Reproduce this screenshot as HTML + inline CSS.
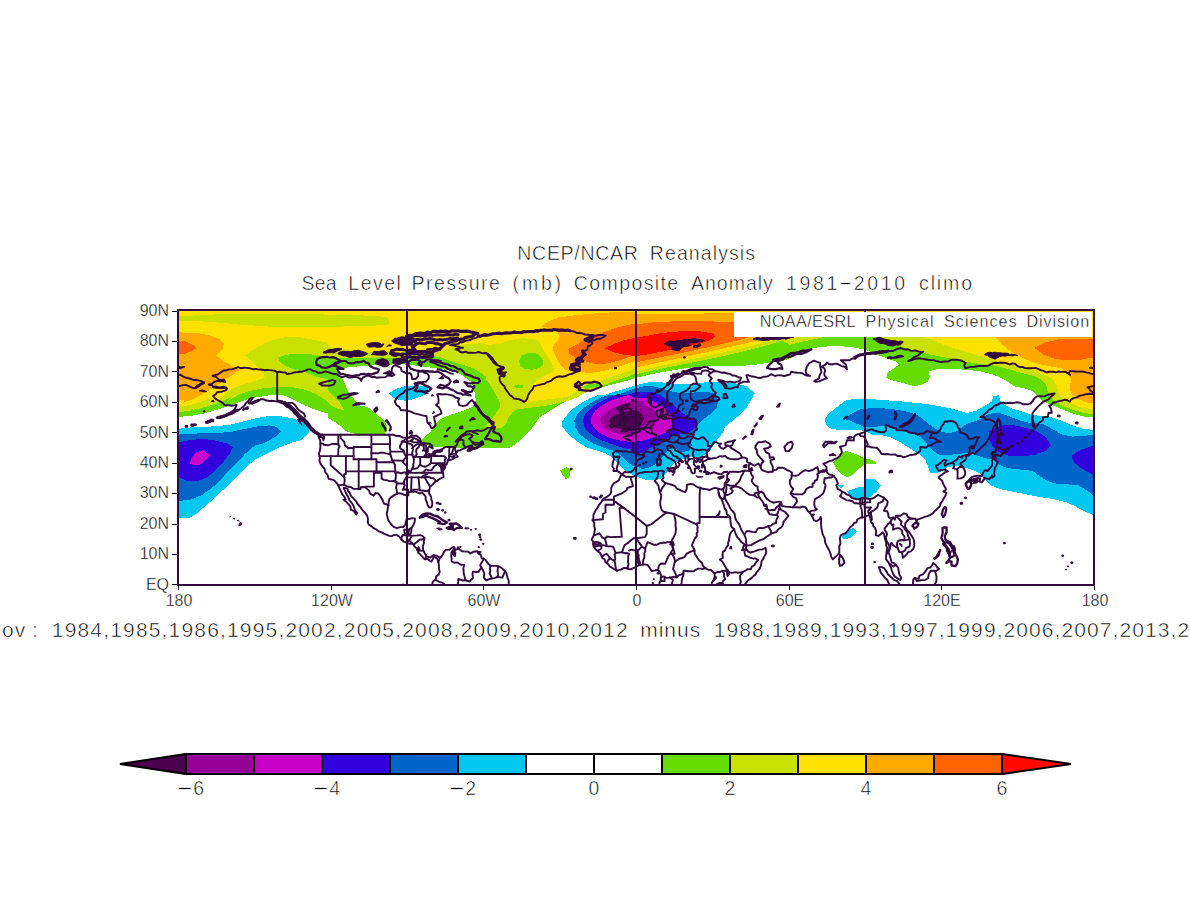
<!DOCTYPE html>
<html lang="en"><head><meta charset="utf-8"><title>NCEP/NCAR Reanalysis - Sea Level Pressure Composite Anomaly</title>
<style>
html,body{margin:0;padding:0;background:#fff;}
body{width:1190px;height:921px;position:relative;overflow:hidden;font-family:"Liberation Sans",sans-serif;color:#111;}
#map{position:absolute;left:0;top:0;}
.t{position:absolute;white-space:pre;line-height:1;-webkit-text-stroke:0.55px #fff;color:#000;}
.w{position:absolute;top:0;white-space:pre;}
.ax{font-size:16px;-webkit-text-stroke:0.35px #fff;}
#noaa{-webkit-text-stroke:0.4px #fff;}
.yl{text-align:right;width:60px;left:109px;}
.xl{text-align:center;width:80px;}
.cb{font-size:19.5px;text-align:center;width:60px;}
.cbn{letter-spacing:1.2px;padding-left:7px;}
.mn{display:inline-block;transform:scaleX(1.3);transform-origin:100% 50%;}
</style></head><body>
<svg id="map" width="1190" height="921" viewBox="0 0 1190 921">
<defs><clipPath id="box"><rect x="178" y="310" width="916" height="274"/></clipPath></defs>
<g clip-path="url(#box)" shape-rendering="crispEdges">
<polygon fill="#64dc00" points="177.0,309.0 1095.0,309.0 1095.0,417.6 1086.0,417.0 1075.4,414.3 1066.1,411.0 1056.8,407.0 1050.2,404.4 1043.6,401.7 1038.2,397.0 1032.9,391.1 1025.0,388.4 1014.3,386.4 1003.7,379.1 993.1,374.5 979.8,371.2 966.6,369.8 953.3,368.9 940.0,369.2 936.0,369.4 928.7,371.4 930.1,376.7 928.1,381.3 921.4,384.7 914.8,386.3 904.2,383.3 893.6,380.7 886.3,378.0 887.6,372.7 893.6,368.7 898.9,364.7 896.2,361.4 888.2,358.8 877.6,354.8 869.7,351.5 864.3,349.5 853.7,347.5 843.1,346.4 829.8,346.2 816.6,347.5 805.9,350.1 796.6,354.1 790.0,358.1 786.0,360.0 779.4,361.5 771.4,362.5 764.8,363.4 755.5,364.7 742.2,365.8 728.9,366.3 715.7,366.3 702.4,366.3 689.1,367.7 675.8,369.8 662.6,372.0 649.3,374.7 636.0,377.8 625.4,381.3 613.5,384.0 600.0,388.0 588.0,391.0 580.0,395.0 571.0,399.0 560.3,404.3 549.7,410.9 539.1,417.6 535.1,424.2 529.8,430.8 524.5,436.2 517.9,442.1 509.9,447.8 486.0,447.8 474.0,447.8 460.8,447.8 447.5,447.8 434.2,447.0 426.2,444.8 420.9,441.5 423.6,437.5 430.2,432.2 434.2,425.5 440.9,418.9 450.1,414.9 460.8,411.6 472.7,407.0 475.4,400.3 474.0,395.0 476.7,405.0 475.4,397.9 474.1,390.0 471.4,382.0 460.8,374.0 447.5,370.1 434.2,368.1 423.6,366.7 414.3,365.4 401.0,364.1 387.7,364.7 374.5,365.4 361.2,366.1 347.9,367.4 336.0,370.1 341.3,376.7 345.3,384.7 347.9,391.3 353.2,397.9 358.5,405.0 362.0,406.0 367.8,407.0 375.8,413.6 383.8,420.2 387.7,426.9 385.1,433.5 367.8,434.2 354.6,433.8 346.6,431.5 341.3,426.9 334.6,421.6 328.0,418.2 328.0,413.6 321.4,411.6 313.4,408.9 305.4,405.6 297.5,401.6 289.5,397.7 282.9,395.0 269.6,395.3 256.3,397.3 247.0,399.5 239.0,402.3 229.7,405.6 216.5,409.9 203.2,413.6 189.9,416.0 177.0,416.9"/>
<polygon fill="#64dc00" points="560.1,470.7 566.3,467.4 571.0,469.3 569.0,478.0 565.7,478.9 562.3,474.7"/>
<polygon fill="#64dc00" points="833.1,462.0 840.5,454.7 845.8,450.8 852.4,452.8 860.4,456.1 865.7,458.7 872.3,460.1 877.6,463.4 869.7,464.0 864.3,464.7 859.0,468.7 853.7,474.0 847.1,477.3 840.5,473.3 835.8,468.0"/>
<polygon fill="#c8e100" points="177.0,309.0 1095.0,309.0 1095.0,414.3 1083.4,413.0 1072.8,409.7 1063.5,406.3 1055.5,401.7 1050.2,396.4 1047.5,391.1 1046.2,384.4 1040.9,379.1 1032.9,375.8 1019.7,372.5 1006.4,368.5 993.1,365.2 979.8,363.9 966.6,361.9 953.3,358.5 940.0,356.6 928.0,354.1 917.5,351.5 904.2,347.5 890.9,343.5 877.6,336.9 850.0,336.9 824.5,336.9 816.6,338.9 803.3,341.5 790.0,344.8 782.1,340.6 768.8,344.8 755.5,348.5 742.2,351.7 728.9,354.8 715.7,357.8 702.4,360.5 689.1,363.2 675.8,365.8 662.6,368.5 649.3,371.4 636.0,374.0 636.0,373.4 625.4,377.4 613.5,381.3 605.5,384.4 600.2,386.3 592.2,390.0 586.9,392.0 583.0,394.0 577.0,397.5 568.0,401.0 557.7,403.0 547.0,405.6 536.5,407.0 525.8,408.3 517.9,409.0 512.6,412.3 508.6,417.6 505.9,424.2 501.0,428.0 494.0,428.8 484.0,427.0 488.7,422.9 492.6,417.6 496.6,412.3 500.0,407.0 499.3,400.3 496.6,395.0 499.3,405.0 497.3,397.9 494.0,391.3 490.0,384.7 486.0,379.4 486.0,376.7 480.7,372.7 474.1,368.7 460.8,364.1 447.5,360.1 440.9,357.4 434.2,356.1 427.6,356.8 418.3,357.4 407.7,358.1 394.4,358.1 381.1,357.4 367.8,358.1 354.6,358.1 341.3,358.1 328.0,357.4 328.0,395.3 316.1,391.0 302.8,388.0 289.5,386.7 276.2,387.1 262.9,388.4 249.7,391.0 239.0,394.6 229.7,399.9 223.1,405.0 232.4,396.3 225.8,399.6 216.5,403.6 203.2,407.6 189.9,410.9 177.0,412.3"/>
<polygon fill="#c8e100" points="276.0,386.0 290.0,386.6 306.0,390.0 316.0,394.0 324.0,399.0 330.0,405.0 338.0,409.0 344.0,410.0 340.0,403.0 330.0,393.0 322.0,385.0 314.0,379.0 310.0,374.0 290.0,373.0 276.0,373.0"/>
<polygon fill="#c8e100" points="328.0,395.0 330.7,395.0 336.0,401.6 343.3,409.3 334.6,406.3 328.0,399.6"/>
<polygon fill="#64dc00" points="278.2,357.4 285.5,354.8 296.1,353.9 309.4,354.1 316.1,355.2 328.0,357.4 328.0,379.4 316.1,376.7 302.8,371.4 296.1,370.1 286.8,366.7 280.2,362.1"/>
<polygon fill="#64dc00" points="519.2,360.8 521.8,355.5 528.5,353.1 536.5,353.5 541.8,358.1 543.4,363.4 540.4,367.4 532.5,369.8 524.5,368.7 519.9,365.4"/>
<polygon fill="#64dc00" points="513.2,386.0 517.9,384.4 523.2,385.3 522.5,387.6 516.5,388.0"/>
<polygon fill="#64dc00" points="583.6,386.7 589.6,384.0 598.9,383.3 600.2,385.3 592.2,388.0 585.6,388.9"/>
<polygon fill="#ffe100" points="177.0,309.0 1095.0,309.0 1095.0,409.7 1079.4,407.0 1070.1,403.0 1062.1,397.7 1058.2,392.4 1056.8,385.8 1052.9,379.1 1043.6,374.5 1032.9,369.8 1019.7,366.5 1006.4,363.9 993.1,359.9 979.8,355.9 966.6,351.9 953.3,347.9 940.0,343.3 933.4,339.8 922.8,336.9 803.3,336.9 796.6,338.2 790.0,340.2 780.7,336.9 768.8,340.8 755.5,344.8 742.2,348.2 728.9,351.2 715.7,354.1 702.4,357.0 689.1,359.7 675.8,362.8 662.6,365.4 649.3,368.5 636.0,371.4 636.0,368.7 625.4,372.1 613.5,376.0 602.8,379.4 600.2,382.0 592.2,382.7 584.3,384.7 578.9,388.6 576.3,391.3 571.0,395.3 563.0,397.5 555.0,398.5 545.7,399.5 538.0,400.5 531.0,402.0 527.0,403.5 525.8,403.3 528.5,397.9 530.5,391.3 532.5,384.7 537.8,379.4 545.7,375.4 554.4,370.7 552.4,364.7 548.4,358.1 544.4,351.5 541.8,346.2 539.1,340.8 532.5,338.9 520.5,338.2 509.9,340.2 499.3,344.2 486.0,344.8 484.0,343.0 460.0,345.0 438.0,352.0 420.9,353.5 407.7,351.5 394.4,352.1 381.1,352.1 367.8,351.5 354.6,350.1 341.3,348.8 328.0,347.2 328.0,342.8 318.7,340.8 309.4,338.9 297.5,336.9 286.8,336.9 276.2,338.9 265.6,342.8 255.0,348.8 244.4,355.5 251.0,360.8 256.3,365.4 261.6,371.4 264.9,377.4 256.3,380.7 247.0,383.3 236.4,386.7 228.4,391.3 223.1,396.6 216.5,400.6 209.8,404.6 212.5,397.7 203.2,401.0 189.9,405.0 177.0,407.0"/>
<polygon fill="#c8e100" points="170.0,316.3 196.6,315.4 216.5,314.3 249.7,313.6 289.5,313.6 328.0,314.6 367.8,315.6 386.4,316.9 389.1,320.3 389.7,324.3 374.5,325.6 354.6,326.2 328.0,326.9 289.5,326.9 269.6,326.6 243.0,324.9 223.1,322.9 203.2,321.6 189.9,320.7 170.0,320.3"/>
<polygon fill="#ffaa00" points="170.0,332.2 196.6,332.9 209.8,335.5 219.1,338.9 223.8,343.5 223.1,348.2 215.8,355.5 223.1,360.8 232.4,366.1 239.7,370.1 231.1,376.0 223.1,381.3 215.1,386.7 207.2,391.3 199.2,395.9 191.2,399.9 183.3,402.6 184.6,399.6 177.0,401.0 177.0,332.0"/>
<polygon fill="#ffaa00" points="541.1,326.2 548.4,321.6 557.7,317.6 572.3,315.6 592.2,313.6 612.1,312.3 636.0,311.6 636.0,314.0 675.8,313.8 734.0,313.2 740.0,336.9 766.0,336.9 766.1,336.9 755.5,340.8 742.2,344.2 728.9,347.2 715.7,350.1 702.4,353.1 689.1,356.1 675.8,358.8 662.6,361.8 649.3,364.7 636.0,367.4 636.0,360.8 624.1,364.7 613.5,368.5 602.8,371.0 592.2,372.7 581.6,372.4 572.3,371.4 565.7,370.1 561.7,366.1 557.7,360.8 555.0,355.5 553.1,350.1 553.7,344.8 557.7,340.8 559.7,336.9 557.7,331.6 549.7,328.2"/>
<polygon fill="#ffaa00" points="995.8,336.9 1002.4,344.6 1010.4,351.2 1019.7,356.6 1030.3,361.2 1040.9,364.5 1051.5,366.5 1062.1,368.5 1069.4,373.8 1071.4,380.5 1069.4,387.1 1071.4,393.7 1078.1,399.0 1086.0,402.4 1095.0,403.7 1095.0,336.9"/>
<polygon fill="#ff6400" points="170.0,340.2 185.9,341.5 192.6,344.8 196.6,347.8 192.6,350.8 185.9,353.5 170.0,355.5"/>
<polygon fill="#ff6400" points="568.3,348.8 576.3,344.8 584.3,340.2 592.2,336.2 605.5,331.6 618.8,326.9 636.0,323.6 636.0,324.3 655.9,322.0 689.1,320.9 734.0,322.0 734.0,336.9 750.0,336.9 750.2,336.9 742.2,339.3 728.9,342.4 715.7,345.5 702.4,348.5 689.1,351.5 675.8,354.1 662.6,356.8 649.3,359.7 636.0,362.4 636.0,354.8 624.1,358.8 613.5,362.1 602.8,364.1 592.2,363.4 584.3,360.8 576.3,358.1 569.6,354.1"/>
<polygon fill="#ff6400" points="1034.3,347.9 1046.2,342.0 1059.5,339.3 1072.8,338.6 1095.0,338.6 1095.0,357.2 1079.4,359.9 1066.1,360.5 1054.2,358.5 1043.6,354.6"/>
<polygon fill="#ff0a00" points="604.8,348.2 613.5,344.2 624.1,340.2 636.0,337.5 636.0,337.5 649.3,335.5 662.6,332.9 675.8,331.6 689.1,330.9 702.4,331.6 713.0,333.5 715.4,336.9 710.4,340.2 699.7,343.5 689.1,346.2 675.8,348.8 662.6,351.5 649.3,354.1 636.0,356.1 636.0,356.1 624.1,354.8 613.5,352.1"/>
<polygon fill="#00c8f0" points="177.0,428.9 189.9,427.5 203.2,426.9 216.5,426.2 229.7,424.9 243.0,421.6 256.3,418.2 268.2,416.2 280.2,416.2 292.1,418.2 302.8,422.2 308.7,426.9 309.4,431.5 305.4,436.2 301.4,440.1 293.5,442.1 284.2,445.5 274.9,449.4 265.6,454.1 256.3,458.7 249.7,464.0 243.0,470.7 236.4,477.3 229.7,484.0 223.1,489.9 217.8,495.0 210.0,502.0 196.0,514.0 190.0,517.6 177.0,517.6"/>
<polygon fill="#0064c8" points="177.0,433.5 196.6,433.5 216.5,432.8 229.7,432.2 243.0,429.3 256.3,426.6 269.6,425.3 276.2,426.9 281.5,431.5 276.2,436.2 269.6,440.1 262.9,443.5 255.0,445.5 249.7,449.4 244.3,454.7 239.0,460.1 233.7,465.4 227.1,472.0 223.1,477.3 216.5,484.0 209.8,489.3 201.9,495.0 190.0,500.0 177.0,501.0"/>
<polygon fill="#3200dc" points="177.0,442.8 189.9,440.1 203.2,438.8 216.5,440.8 227.1,443.5 233.1,447.4 229.7,453.4 225.8,458.7 220.5,465.4 213.8,472.0 207.2,477.3 199.2,480.6 185.9,480.6 177.0,476.0"/>
<polygon fill="#c800c8" points="189.3,463.4 191.9,457.4 196.6,452.1 203.2,450.1 209.8,455.4 205.8,460.1 201.9,464.0 196.6,465.4"/>
<polygon fill="#00c8f0" points="388.4,393.3 397.0,388.6 405.0,386.3 418.3,385.3 426.2,386.7 428.9,390.0 426.2,394.0 421.0,396.6 413.0,399.3 405.0,400.6 397.0,399.3 391.7,396.6"/>
<polygon fill="#00c8f0" points="644.0,383.3 636.0,385.3 625.4,388.6 613.5,392.0 604.0,395.0 598.9,395.0 589.6,398.3 581.6,403.0 573.6,408.3 567.0,414.9 562.3,421.6 561.7,425.5 565.7,430.8 572.3,437.5 578.9,442.8 586.9,447.4 597.5,450.8 605.5,453.4 612.1,457.4 618.8,464.0 625.4,470.7 632.0,474.7 638.7,477.3 646.6,480.0 655.9,480.0 661.2,478.6 665.2,474.7 669.2,469.3 674.5,462.7 679.8,460.1 689.1,457.4 699.7,457.4 707.7,453.4 711.7,448.1 717.0,440.1 722.3,433.5 725.0,426.9 731.6,421.6 739.6,414.9 746.2,408.3 750.2,401.6 754.2,395.0 752.8,396.6 754.8,393.3 746.2,386.0 735.6,383.3 722.3,382.3 709.0,382.0 695.7,383.3 682.5,384.4 669.2,383.3 655.9,381.7 649.3,382.3 636.0,384.7"/>
<polygon fill="#0064c8" points="636.0,388.0 625.0,392.0 616.0,395.0 608.1,395.0 598.9,398.3 590.9,403.0 582.9,408.3 577.6,413.6 574.3,420.2 575.0,426.9 578.9,433.5 585.6,438.8 593.5,443.5 602.8,447.4 613.5,450.8 621.4,456.1 626.7,461.4 632.0,465.4 638.7,467.4 642.6,469.3 649.3,467.4 655.9,464.0 661.2,458.7 665.2,453.4 669.2,449.4 674.5,448.1 681.1,452.1 689.1,450.8 691.8,445.5 690.4,440.1 691.8,434.8 695.7,428.2 701.1,420.9 710.0,414.3 717.0,407.6 717.9,401.6 718.3,395.0 718.3,400.6 715.7,394.0 707.7,392.0 699.7,392.0 689.1,392.9 679.8,393.0 670.5,391.3 662.6,388.6 651.9,386.0 644.0,386.3 636.0,388.4"/>
<polygon fill="#3200dc" points="636.0,392.5 626.0,395.0 616.1,395.0 605.5,399.0 597.5,403.0 590.9,408.3 585.6,413.6 582.9,420.2 584.2,426.9 588.2,432.2 594.9,436.8 602.8,440.8 612.1,444.1 621.4,447.4 632.0,450.1 636.0,454.7 642.0,453.0 650.0,448.0 660.0,443.0 670.0,437.0 678.5,434.8 688.4,432.8 696.4,426.9 695.7,419.2 690.0,417.0 683.8,414.0 675.8,407.0 667.9,400.3 659.9,395.0 658.6,394.6 651.9,392.0 644.0,392.0 636.0,392.6"/>
<polygon fill="#c800c8" points="636.0,398.6 629.4,395.0 618.8,397.7 609.5,401.0 601.5,405.6 594.9,410.9 590.9,417.6 591.5,424.2 596.2,430.2 602.8,434.8 610.8,438.1 621.4,440.8 632.0,442.1 636.0,441.5 645.3,440.1 653.3,437.5 659.9,434.8 666.5,432.2 671.8,426.9 673.2,421.6 671.8,414.9 666.5,409.6 655.9,403.0 649.3,398.5 642.6,398.0"/>
<polygon fill="#960096" points="644.0,401.0 632.0,401.6 621.4,404.3 612.1,408.3 604.2,413.6 600.2,418.9 601.5,424.2 605.5,428.9 613.5,432.8 624.1,434.8 634.7,434.8 642.6,430.2 649.3,426.9 654.6,422.9 658.6,418.9 657.2,413.6 651.9,408.3 644.0,405.0"/>
<polygon fill="#4b0050" points="636.0,409.6 632.0,410.3 622.8,412.3 614.8,416.2 610.1,420.9 612.1,425.5 618.8,428.9 629.4,430.2 636.0,428.0 640.0,424.9 643.3,421.6 644.0,417.6 641.3,413.6"/>
<polygon fill="#00c8f0" points="845.8,400.3 853.7,399.0 864.3,398.7 882.9,400.0 902.9,401.6 922.8,403.6 936.0,405.6 953.3,409.0 966.6,413.0 975.8,411.0 983.8,406.3 991.8,401.7 993.1,396.4 998.4,395.1 1000.4,400.4 1003.7,404.4 1011.7,408.3 1022.3,411.7 1032.9,415.0 1043.6,416.3 1052.9,417.6 1063.5,421.6 1072.8,425.6 1083.4,428.9 1095.0,430.0 1095.0,515.6 1084.7,511.6 1075.4,506.3 1066.1,502.3 1052.9,499.0 1039.6,497.0 1026.3,494.3 1013.0,491.7 999.7,489.0 990.5,485.1 985.1,479.7 979.8,473.1 970.5,469.1 962.6,467.1 954.6,465.8 948.0,467.0 942.0,471.0 936.0,473.0 930.1,472.7 928.1,466.7 925.4,460.1 920.1,454.7 913.5,450.8 905.5,445.5 898.9,441.5 890.9,437.5 882.9,435.5 872.3,434.8 866.0,431.5 859.0,429.8 848.4,430.2 837.8,429.8 829.8,428.2 825.8,424.9 825.2,418.9 828.5,413.6 833.8,409.6 840.5,404.3"/>
<polygon fill="#0064c8" points="843.1,418.9 849.7,414.9 859.0,409.6 869.7,408.3 882.9,408.3 896.2,409.6 909.5,412.3 917.5,414.9 924.1,420.2 930.7,425.5 938.7,430.8 948.0,433.3 957.3,431.3 962.6,426.6 967.9,423.3 975.8,421.1 979.8,419.0 986.5,415.0 993.1,413.0 999.7,413.0 1009.0,416.3 1019.7,420.3 1030.3,423.0 1043.6,424.0 1052.9,429.3 1062.1,434.6 1072.8,436.6 1083.4,435.9 1095.0,434.6 1095.0,496.3 1084.7,489.0 1078.1,485.1 1067.5,484.4 1056.8,483.7 1048.9,481.7 1040.9,477.1 1032.9,471.1 1025.0,469.8 1014.3,469.1 1003.7,467.1 997.1,463.8 993.1,459.8 983.8,457.8 974.5,454.5 966.6,453.2 957.3,453.9 948.0,455.2 940.0,455.4 933.4,450.8 928.1,445.5 924.1,440.1 918.8,436.2 912.1,433.5 904.2,430.8 896.2,428.2 888.2,426.2 880.3,426.2 872.3,427.5 864.3,426.9 856.4,423.5 849.7,420.2"/>
<polygon fill="#3200dc" points="988.5,432.0 995.8,427.3 1003.7,425.3 1014.3,425.3 1026.3,428.0 1038.2,432.0 1046.2,437.3 1050.9,445.2 1046.2,450.5 1035.6,454.5 1022.3,456.5 1009.0,455.8 998.4,451.9 991.8,445.2 989.1,438.6"/>
<polygon fill="#3200dc" points="1095.0,445.2 1084.7,448.5 1076.7,451.9 1071.4,455.8 1074.1,462.5 1080.7,467.8 1087.4,471.8 1095.0,475.1"/>
<polygon fill="#00c8f0" points="866.0,478.6 873.7,478.6 881.0,485.3 876.3,492.0 870.0,497.0 864.0,499.0 856.0,499.5 850.0,497.0 847.0,491.5 853.0,489.0 860.0,487.0 864.3,486.6"/>
<polygon fill="#00c8f0" points="838.0,485.0 844.0,485.0 841.0,489.0"/>
<polygon fill="#00c8f0" points="842.0,536.0 847.0,531.0 853.0,528.0 857.0,531.0 850.0,538.0 843.0,539.6"/>
</g>
<g clip-path="url(#box)" fill="none" stroke="#330a40" stroke-width="1.9" stroke-linejoin="round" stroke-linecap="round">
<polyline points="277.2,372.1 274.6,370.7 272.4,370.4 269.4,370.1 267.1,369.9 264.2,370.2 261.4,369.5 258.2,369.6 256.2,368.9 253.4,369.3 249.2,368.2 247.0,367.9 244.0,367.8 240.8,368.2 238.1,367.1 233.6,368.8 232.0,369.4 228.7,369.4 226.2,370.5 223.9,370.4 221.1,372.1 217.6,374.5 215.3,374.8 212.6,375.9 216.4,377.0 217.6,378.5 220.0,380.0 224.0,379.8 225.4,382.1 222.0,381.3 220.0,381.3 217.3,380.9 213.8,382.2 211.8,384.0 208.7,384.5 212.3,385.6 213.8,387.3 217.1,387.7 219.7,387.8 222.5,388.0 226.1,387.8 226.5,389.8 224.8,390.7 221.6,391.7 217.2,392.1 216.2,393.7 213.3,396.1 214.9,398.4 217.5,400.0 221.0,401.9 223.7,403.7 224.6,405.2 228.7,405.3 231.6,405.8 235.2,405.1 236.6,404.7 235.1,408.9 232.8,411.0 228.6,413.5 224.9,415.1 221.0,416.3 219.5,416.9 216.5,417.8 221.4,417.6 225.3,416.1 228.8,414.9 232.7,413.6 235.4,411.4 237.7,410.6 241.3,408.2 244.3,405.8 245.4,403.6 248.1,401.3 249.6,398.6 253.0,398.0 250.6,400.8 250.3,403.1 254.4,402.6 258.1,401.1 260.6,399.2 263.4,399.1 265.5,400.3 269.8,401.0 271.7,400.7 274.9,401.1 278.5,401.9 282.1,403.2 286.3,404.9 288.6,406.5 290.9,408.7 293.6,412.0 295.5,414.2 297.4,415.3 301.1,416.6 304.0,418.2 305.2,419.6 308.0,422.4 310.3,425.8 311.8,428.5 313.4,429.6 315.5,432.0 319.1,434.1 322.6,434.5 324.3,436.9 323.4,440.2 322.8,437.6 318.4,436.4 320.3,440.6 320.3,443.7 320.4,446.8 319.7,451.6 318.9,453.5 319.8,457.8 319.5,461.1 320.8,464.1 323.4,467.7 324.6,469.0 325.1,471.5 325.6,472.7 327.6,475.0 328.7,478.9 332.1,479.6 334.2,480.3 337.4,483.9 337.9,485.0 339.2,487.6 340.9,491.3 342.4,494.5 344.4,496.9 345.7,499.7 343.3,499.6 346.1,501.7 348.2,503.8 350.4,506.4 350.8,509.6 353.6,510.8 354.9,512.6 356.3,514.4 357.4,513.2 355.0,510.3 353.8,506.5 352.1,503.4 349.4,500.2 348.3,497.3 346.9,494.7 346.1,493.1 344.2,489.3 343.9,487.7 347.4,488.6 348.0,490.8 349.6,492.5 350.8,495.6 353.7,498.7 356.2,501.4 357.6,504.0 360.3,507.0 362.5,510.1 365.3,513.2 367.3,515.9 368.0,519.3 367.7,522.1 368.7,524.5 371.3,526.1 373.6,528.2 376.6,529.7 378.8,531.4 381.7,532.3 385.0,534.1 389.3,535.9 391.7,536.1 394.4,534.9 396.5,534.8 399.4,536.8 401.3,539.5 404.2,541.9 406.9,542.7 409.6,543.8 412.3,543.6 413.3,544.1 414.0,545.8 416.2,547.9 417.7,550.5 418.2,552.7 420.0,554.0 420.7,554.9 423.2,557.7 424.9,559.2 427.6,558.8 429.6,560.7 431.3,561.7 432.5,559.8 433.8,556.9 436.6,558.0 437.4,559.3 438.5,562.0 438.9,565.5 439.0,568.9 439.7,571.8 438.6,574.7 436.1,576.6 435.8,579.1 432.7,581.9 432.1,585.3"/>
<polyline points="433.7,555.1 436.6,555.6 439.1,557.2 440.5,557.6 442.3,555.4 444.0,552.0 445.7,549.9 449.2,549.8 452.0,547.7 454.0,546.9 454.5,548.8 453.3,551.0 452.8,553.9 454.8,556.0 455.4,552.7 454.0,550.6 457.4,549.0 458.0,547.2 459.2,549.3 462.0,551.3 465.5,551.6 468.0,551.5 470.3,553.5 473.3,551.8 477.2,551.2 478.4,553.6 481.0,555.0 481.6,558.3 483.3,558.5 485.7,560.0 487.7,563.2 490.4,565.8 493.5,565.9 496.3,565.9 498.7,566.7 501.3,567.6 503.5,569.9 504.8,570.8 506.5,573.5 507.0,575.6 507.5,577.6 508.8,581.0 508.7,585.5"/>
<polyline points="433.7,555.1 430.2,557.5 426.6,556.3 425.0,553.8 423.2,550.3 422.8,546.0 424.0,543.1 423.7,541.7 424.6,538.2 422.5,535.8 420.2,535.1 417.3,535.4 413.5,535.6 410.9,535.6 410.0,535.0 411.2,532.0 411.5,528.3 413.5,524.7 414.6,521.8 415.1,518.6 412.2,518.1 410.2,518.7 406.7,519.3 406.0,521.6 405.4,524.5 403.3,527.1 400.4,527.1 396.8,528.2 394.3,527.2 391.6,525.1 390.1,522.8 388.3,520.3 387.2,516.0 386.7,513.6 387.4,510.8 387.9,507.7 388.6,504.9 388.6,502.1 389.5,498.7 391.4,497.1 394.3,495.1 396.9,493.8 399.4,493.2 401.7,493.6 404.2,494.9 407.3,495.5 408.4,495.3 408.2,492.6 410.8,491.8 413.2,491.6 415.6,491.6 418.4,492.8 419.8,493.6 422.1,492.5 423.7,494.1 425.6,496.5 425.7,499.4 427.0,502.6 427.6,505.1 429.4,507.6 431.3,507.3 432.1,505.6 432.3,501.7 431.4,500.0 431.2,497.0 429.1,493.5 429.0,490.5 430.1,486.9 432.6,484.6 434.7,482.1 437.6,480.6 439.7,478.8 442.2,477.5 443.7,476.8 443.0,472.8 442.8,471.6 442.2,468.6 441.0,464.5 442.7,465.7 443.1,470.6 444.6,468.6 445.3,467.1 444.1,464.1 446.5,464.7 447.8,461.2 447.7,459.8 449.9,459.9 452.7,459.1 454.4,457.8 456.7,457.2 457.8,456.7 456.3,455.3 456.0,454.0 456.3,452.5 458.2,450.5 460.3,450.2 463.0,448.9 465.7,447.8 467.9,446.4 471.3,445.4 472.6,446.3 469.4,447.6 467.5,450.8 470.4,450.7 473.2,448.7 476.0,448.1 479.5,446.1 483.5,444.2 482.1,441.0 479.2,443.8 475.8,444.8 473.0,443.6 471.2,440.9 469.1,438.6 471.6,437.2 472.7,435.7 469.6,434.0 465.8,434.8 461.5,436.6 460.4,438.5 457.8,439.2 455.6,441.7 458.2,438.6 460.8,435.6 464.5,433.6 466.7,431.5 470.6,431.2 473.2,431.1 475.4,430.8 477.9,430.3 480.7,431.0 484.3,430.1 487.4,427.9 491.1,427.6 493.2,425.8 493.8,422.4 490.8,420.8 488.7,417.8 484.8,415.7 482.0,413.9 479.8,410.2 478.3,407.4 475.8,404.6 473.2,401.6 471.9,399.9 469.0,402.6 466.8,405.1 463.2,406.1 459.3,405.1 458.0,401.3 459.3,398.5 455.6,397.5 452.9,395.6 448.9,394.6 445.0,394.1 442.4,394.5 439.9,394.0 437.2,394.3 438.2,396.9 438.5,399.5 438.5,402.9 436.0,404.9 438.7,407.1 440.8,410.4 441.4,413.4 437.2,415.5 433.9,416.8 434.5,419.3 435.2,422.4 435.5,425.4 433.7,427.4 431.5,428.3 430.2,425.3 427.6,422.9 426.9,419.9 426.7,416.3 422.4,415.4 418.7,414.4 414.5,413.4 410.9,411.6 406.9,410.5 403.4,410.1 400.9,410.3 399.6,407.1 396.6,405.2 394.7,401.5 396.5,398.4 399.2,395.3 403.4,392.9 405.4,390.3 409.5,389.4 413.3,388.1 415.9,385.4 414.4,383.4 418.7,382.1 422.2,382.0 425.9,381.8 428.8,378.3 428.8,375.7 427.3,373.4 424.2,372.7 422.5,371.3 418.3,371.6 418.2,375.7 416.0,378.7 412.2,379.2 411.8,376.8 411.2,374.3 409.6,372.9 406.9,373.8 404.5,372.2 401.7,371.1 400.8,367.7 397.7,366.4 395.9,365.0 393.0,366.4 391.6,369.5 391.7,372.1 394.4,374.8 391.7,376.1 387.8,375.2 385.6,377.1 381.4,377.4 378.5,377.5 376.8,377.8 374.5,376.7 371.7,377.3 369.3,375.7 366.5,375.8 362.6,377.6 361.1,380.9 360.0,378.4 355.8,376.9 353.8,377.1 350.8,377.5 348.4,377.5 345.9,376.1 342.3,377.1 339.6,376.2 337.0,374.2 333.2,373.8 330.8,373.0 327.4,372.0 325.5,371.4 322.4,372.5 320.2,372.8 317.8,372.7 315.9,371.4 312.9,370.7 310.4,369.4 308.0,369.4 305.3,370.7 302.1,371.7 300.4,371.7 298.0,372.0 295.3,372.2 291.4,373.4 287.1,374.0 285.5,372.5 282.4,372.4 279.4,371.7 277.4,372.3"/>
<polyline points="524.0,401.9 522.1,400.6 518.6,399.1 516.1,398.7 514.0,398.6 512.0,396.3 510.1,395.3 507.7,392.0 505.0,388.2 504.4,385.9 502.4,384.4 500.8,382.5 499.7,380.5 499.7,377.0 504.0,374.3 506.0,372.1 504.3,372.8 501.6,371.9 498.6,372.5 497.3,369.5 500.1,369.2 503.8,367.9 501.3,366.7 497.9,365.3 496.0,364.5 494.9,362.1 493.6,360.2 491.8,357.6 489.4,355.8 486.1,353.0 482.7,353.3 481.1,352.8 478.4,352.0 476.3,352.6 473.5,352.9 471.2,352.6 467.8,352.7 465.5,351.6 462.7,352.5 460.5,352.0 458.2,350.2 455.5,349.3 458.4,348.8 461.1,347.9 463.1,347.8 460.9,347.7 457.9,346.6 455.0,345.8 452.3,345.4 450.0,345.1 452.8,344.2 455.1,344.4 458.5,343.9 460.2,342.0 462.7,342.2 465.3,340.8 468.7,340.2 470.7,339.8 472.6,338.6 476.1,337.9 478.5,336.5 480.2,336.2 483.5,335.7 485.6,335.7 488.9,335.0 490.5,334.6 493.6,333.9 496.4,333.7 498.4,334.0 501.7,334.0 503.4,332.9 505.8,333.4 509.4,332.7 511.3,333.0 513.8,332.9 516.2,332.7 519.6,332.7 522.1,332.0 523.6,331.4 526.2,331.9 528.9,331.4 532.3,331.0 533.9,331.5 537.4,330.1 539.8,331.2 541.6,330.2 544.0,329.8 547.3,329.9 549.4,329.7 552.6,330.5 554.3,329.6 556.8,330.3 560.2,329.6 561.7,329.8 565.0,330.3 567.9,330.4 569.2,330.4 572.8,331.3 574.5,331.6 576.9,333.0 580.0,332.8 582.1,333.4 584.8,334.5 588.2,334.7 590.2,335.1 592.2,334.9 595.8,335.7 597.6,335.3 599.9,334.9 603.6,335.3 605.7,335.7 602.9,337.5 600.2,338.8 597.3,338.6 595.1,340.2 592.4,340.0 590.1,340.5 592.5,343.2 590.0,345.7 587.7,346.5 587.5,349.7 584.6,350.8 582.6,351.4 584.5,353.0 586.0,354.7 582.4,356.9 580.2,360.3 577.3,362.0 575.2,363.2 577.5,365.3 579.9,366.3 580.0,369.3 577.6,370.0 575.5,369.7 572.2,370.2 575.2,370.4 577.4,371.3 575.0,372.3 572.1,373.8 569.3,374.4 567.2,375.3 565.4,376.2 561.9,376.8 559.7,376.3 556.4,377.0 553.1,378.8 551.4,380.7 549.4,381.4 546.6,382.3 544.6,383.7 542.4,384.1 539.6,384.9 536.2,385.6 533.9,386.0 532.7,389.2 530.1,391.9 528.0,395.4 527.3,398.6 525.5,401.0 523.9,401.9"/>
<polyline stroke-width="2.2" points="578.7,389.8 582.0,390.1 585.1,390.7 588.9,390.7 591.0,390.8 594.3,389.6 598.1,388.1 601.7,386.1 599.4,383.1 595.0,381.7 592.2,382.3 590.5,382.6 588.1,382.5 584.8,382.6 581.5,384.8 578.8,381.6 574.9,384.5 576.9,385.5 579.7,385.7 576.8,386.5 574.8,386.5 576.8,387.4 580.4,387.8 579.0,389.5"/>
<polyline stroke-width="2.3" points="485.1,439.1 489.4,439.2 493.4,441.1 495.8,441.0 498.5,441.5 500.5,441.6 501.6,439.3 500.8,436.4 498.8,433.9 495.9,433.0 493.2,431.5 494.9,427.0 491.5,428.4 489.7,431.4 488.2,434.2 486.7,436.2 485.3,438.8"/>
<polyline stroke-width="2.4" points="419.7,517.3 422.1,514.8 426.3,513.5 429.8,513.6 433.5,515.4 437.8,516.5 439.9,517.9 441.5,519.2 443.7,520.7 447.1,522.3 445.0,523.7 443.3,524.1 440.1,523.3 438.2,523.4 439.9,521.8 436.5,520.1 432.4,518.1 428.9,516.9 426.4,515.3 423.8,516.5 419.8,517.6"/>
<polyline stroke-width="2.4" points="446.7,528.0 448.9,528.8 451.4,528.9 454.2,529.9 456.7,528.1 460.2,527.7 461.9,527.7 459.5,525.6 456.6,523.5 453.7,523.6 449.9,523.7 449.7,524.0 451.0,525.4 451.9,527.2 449.1,527.1 447.0,528.1"/>
<polyline stroke-width="2.2" points="470.6,395.5 468.0,395.2 465.3,394.3 462.7,394.6 460.8,393.3 457.6,393.1 454.7,391.1 453.0,390.1 450.2,389.2 448.0,387.7 445.8,387.3 442.6,388.4 440.6,387.9 437.6,387.5 440.2,384.9 443.3,385.5 445.0,386.3 448.9,384.3 450.6,381.5 448.8,378.3 445.0,376.4 441.6,373.6 437.7,371.4 434.9,372.0 432.3,371.7 430.5,371.7 427.6,371.1 425.5,371.2 422.6,370.6 419.9,371.2 417.3,370.7 414.4,370.0 410.8,368.6 408.3,365.2 408.6,361.7 411.8,359.6 415.1,360.0 418.1,359.5 420.4,361.3 418.1,363.9 421.0,365.9 422.0,362.4 424.6,361.7 427.2,359.5 431.3,359.4 432.8,360.0 435.9,361.9 437.3,362.2 440.3,362.4 442.0,363.1 445.4,364.0 448.1,364.4 450.4,365.9 452.9,366.1 455.3,367.3 457.8,368.9 461.0,369.5 462.9,371.1 465.2,374.1 468.6,375.1 471.2,375.9 473.4,377.3 475.7,377.7 478.6,378.6 480.0,381.2 478.2,382.8 475.7,383.0 473.2,382.6 470.8,383.5 467.6,383.0 464.5,382.1 466.3,383.8 468.1,386.2 470.7,386.4 473.0,387.3 474.4,386.2 473.0,389.1 471.8,391.6 467.9,392.2 464.5,390.7 461.7,390.2 464.3,391.5 466.8,393.9 470.4,395.3"/>
<polyline stroke-width="2.2" points="340.8,373.9 343.9,374.2 346.0,374.9 348.5,375.3 350.5,375.6 353.8,375.9 356.1,375.4 358.7,375.4 360.7,374.1 363.9,373.9 366.4,374.7 368.4,373.7 371.0,374.6 375.2,373.1 377.7,372.4 379.0,369.6 377.0,368.7 373.9,368.1 370.1,366.2 368.8,363.4 365.9,362.6 363.7,360.8 361.5,361.9 359.2,362.2 355.8,362.1 354.1,363.1 350.7,363.4 348.1,363.0 345.6,361.0 343.4,361.0 340.9,361.3 337.7,362.4 335.4,362.7 332.9,365.7 335.9,366.1 338.5,367.1 341.4,368.0 343.5,369.0 340.0,368.6 337.1,369.1 338.3,371.4 340.7,373.8"/>
<polyline stroke-width="2.2" points="323.8,367.5 321.4,367.3 319.5,365.6 316.7,365.2 316.1,361.8 317.0,359.4 319.4,357.9 321.9,357.2 324.4,357.2 326.5,356.8 329.5,357.5 333.1,357.1 335.8,358.0 338.4,359.8 340.6,360.7 338.8,362.6 335.5,363.9 333.4,364.3 331.4,365.8 329.5,366.9 326.3,367.8 323.7,367.6"/>
<polyline stroke-width="3" points="401.9,356.6 404.8,357.2 407.0,357.1 409.7,357.0 411.8,357.2 414.7,357.0 417.5,357.7 419.7,357.0 422.3,357.4 424.5,357.5 427.6,357.2 430.0,356.1 432.5,356.8 432.6,354.4 429.4,353.0 427.5,352.3 424.2,351.5 421.9,351.5 419.9,351.7 417.5,351.8 414.9,351.8 412.6,350.0 409.5,350.3 407.3,350.6 404.0,349.9 402.5,349.3 399.0,349.5 396.4,349.1 394.1,350.2 391.8,350.4 390.3,353.7 393.3,353.5 395.2,353.8 397.7,354.0 400.1,354.5 402.2,355.2 402.1,356.4"/>
<polyline stroke-width="2.4" points="414.6,390.7 417.2,391.4 420.1,390.9 422.5,391.5 424.2,392.0 428.0,391.2 429.6,390.3 431.4,388.7 427.6,386.4 425.0,385.3 422.2,383.6 419.9,383.1 417.3,383.3 417.1,387.9 414.8,390.5"/>
<polyline stroke-width="3.2" points="409.5,351.7 412.6,351.5 415.1,351.1 417.2,351.9 420.0,351.7 422.0,351.7 425.3,351.5 427.2,352.1 429.7,352.1 432.4,351.8 435.0,350.5 437.2,350.1 439.9,348.8 442.3,346.4 445.2,343.5 447.9,342.9 450.9,341.7 452.8,341.1 455.7,340.8 458.5,339.6 460.5,339.2 462.9,339.2 465.1,337.6 467.9,337.0 470.8,336.6 472.8,335.9 475.3,333.8 478.0,333.5 476.1,333.2 472.7,332.3 470.8,332.0 468.4,331.3 465.9,331.1 462.3,331.3 460.6,331.4 457.9,330.8 455.4,331.0 452.1,330.8 450.1,331.5 448.4,331.9 445.3,331.1 442.9,331.5 440.7,331.1 438.2,331.7 435.2,331.4 433.0,331.4 430.2,332.7 427.6,332.0 425.5,333.1 423.0,333.5 420.4,333.1 416.8,333.6 414.6,334.1 412.7,335.5 409.3,335.4 406.7,336.3 409.2,337.7 412.2,339.2 414.7,341.9 417.0,343.6 414.3,345.6 412.1,346.4 414.9,349.6 411.9,350.2 409.3,351.6"/>
<polyline stroke-width="2.2" points="767.0,367.8 771.2,369.1 773.4,369.2 775.9,369.1 779.1,368.2 782.4,368.9 781.2,364.8 779.1,363.8 777.4,361.9 778.7,360.0 776.2,360.9 773.6,360.8 770.8,363.5 768.5,365.6 767.0,367.8"/>
<polyline stroke-width="2.4" points="773.4,359.9 776.5,359.1 778.4,358.8 781.5,358.6 783.5,357.1 786.5,355.9 788.6,354.5 791.3,353.1 793.6,352.9 796.1,352.7 798.9,352.2 802.0,350.8 803.8,350.6 806.8,350.5 808.4,350.3 811.4,349.3 809.7,350.3 806.8,351.8 803.5,353.1 801.7,353.7 798.2,353.9 796.3,354.0 793.7,355.4 791.2,356.4 789.0,356.7 785.6,357.1 783.6,358.9 780.1,360.4 775.9,360.7 773.5,359.7"/>
<polyline points="1090.2,367.8 1093.1,368.0 1096.3,367.0"/>
<polyline points="1090.2,367.8 1093.9,368.2 1096.6,367.7"/>
<polyline points="175.5,366.9 178.1,366.7 181.1,367.4 184.2,366.9 180.2,368.1 177.9,368.2 175.3,368.2"/>
<polyline stroke-width="3" points="412.1,339.5 415.2,340.0 417.8,339.2 419.6,339.8 421.8,339.7 425.3,338.8 427.0,338.9 429.5,338.6 432.3,339.1 435.3,339.7 438.0,339.9 439.9,339.5 442.5,339.9 445.1,339.6 448.3,339.0 450.3,338.5 452.9,338.7 455.6,338.2 457.6,337.9"/>
<polyline stroke-width="3" points="417.2,343.5 419.4,342.9 422.9,343.5 425.4,343.7 427.0,342.6 429.9,342.6 432.4,342.3 435.6,343.7 437.6,343.6 440.2,344.5 442.5,345.2"/>
<polyline stroke-width="3" points="419.7,335.9 421.9,335.6 425.3,335.9 426.9,335.3 429.9,334.9 432.8,335.4 434.8,334.9 437.3,334.8 440.2,334.9 443.1,335.2 445.5,334.8 447.3,334.6 450.8,335.0 453.1,335.0 455.8,334.1 458.2,334.7"/>
<polyline stroke-width="2.5" points="427.4,349.6 430.0,349.2 432.9,349.0 435.3,348.0 438.1,348.7 440.0,349.6"/>
<polyline stroke-width="3" points="407.0,336.5 409.7,335.5 411.7,336.4 414.0,336.1 417.5,335.2 420.3,335.4 422.1,334.7 424.4,333.8 427.1,333.3"/>
<polyline stroke-width="2.5" points="401.9,353.8 405.1,354.1 406.8,353.4 410.0,354.6 412.8,353.4 415.0,353.8 417.0,354.1 419.5,354.8 421.8,354.1 424.3,354.7 427.4,354.4"/>
<polyline stroke-width="2" points="432.4,362.4 435.5,363.5 437.5,364.8 440.2,365.9 442.7,366.5 445.2,366.8 447.8,368.9 450.4,369.7 452.5,370.9 454.9,370.7 457.6,372.2"/>
<polyline points="454.1,382.2 458.2,382.0 456.6,380.6 454.0,381.9"/>
<polyline stroke-width="2" points="437.5,369.4 439.8,369.4 443.0,371.0 445.2,370.9 447.8,372.2 450.7,373.4 452.8,373.9"/>
<polyline points="714.9,370.9 712.3,369.3 709.2,369.1 707.2,367.3 703.8,366.9 701.6,367.6 699.9,368.5 696.8,368.9 694.2,369.1 691.9,370.3 689.6,371.2 686.7,371.2 684.1,371.6 681.4,373.6 679.3,374.7 676.1,375.4 674.3,376.2 671.6,379.1 669.2,383.1 666.6,385.8 664.0,388.1 660.0,391.0 656.4,392.3 653.8,393.8 651.0,394.3 648.9,396.5 648.5,400.4 650.0,404.0 652.6,406.9 655.0,407.7 657.4,406.4 660.8,404.4 663.1,402.0 663.9,404.6 665.4,407.7 666.8,410.5 668.4,413.4 668.6,415.6 672.0,415.5 672.7,413.3 676.4,412.8 678.2,408.9 679.3,405.3 682.9,403.5 682.7,400.3 680.0,398.9 680.0,396.3 680.3,393.5 683.2,392.2 686.8,390.3 689.5,387.9 690.6,385.2 693.5,383.5 697.3,383.9 700.5,386.2 698.6,388.0 694.8,390.9 690.6,391.2 690.5,395.5 690.8,398.6 693.0,400.6 694.4,401.4 696.6,401.7 699.6,400.7 702.0,400.5 704.8,399.7 708.2,399.4 712.2,401.1 708.6,402.6 707.3,402.5 704.2,403.5 702.5,402.8 698.8,402.7 695.9,404.1 695.9,406.0 697.7,406.8 697.1,409.5 694.4,410.6 693.0,408.5 690.8,409.3 689.7,412.3 689.3,414.8 687.0,417.0 685.5,418.3 683.8,418.1 681.5,417.5 677.6,417.9 674.8,418.8 673.0,419.4 670.1,418.1 667.6,418.4 663.9,419.4 661.7,417.9 661.0,416.2 661.7,414.8 662.8,412.3 662.8,408.5 659.9,410.2 657.0,410.6 656.5,413.4 656.9,414.9 658.1,416.9 658.2,419.9 656.5,420.6 653.7,420.9 652.6,421.4 650.1,421.4 648.0,422.7 646.8,425.8 645.0,427.6 642.2,428.4 640.0,429.1 640.0,431.2 636.4,432.9 633.2,433.3 632.4,432.5 631.7,435.5 628.7,435.3 623.9,436.9 624.9,438.2 628.7,440.0 630.9,440.9 633.0,443.7 633.0,447.1 632.3,449.8 632.2,451.9 628.2,451.9 625.7,451.1 623.6,451.5 620.7,451.2 618.4,451.2 615.5,450.9 612.9,453.4 613.3,456.4 613.9,458.9 613.0,462.3 612.4,465.5 612.2,466.5 613.8,468.4 613.4,471.0 616.7,470.8 619.3,472.1 621.8,474.4 624.6,472.0 628.1,472.4 631.2,471.7 634.2,469.3 635.7,466.5 635.4,464.0 636.7,461.2 637.7,460.1 641.6,458.1 644.5,456.3 643.4,453.4 646.3,451.4 649.2,452.1 652.5,452.6 655.0,450.6 658.2,449.1 662.1,450.7 662.8,452.9 665.5,455.4 667.3,457.3 670.6,458.9 672.3,459.8 675.3,462.0 675.9,464.5 676.8,466.6 675.7,468.0 678.0,467.2 679.5,465.0 679.5,463.7 678.1,462.6 679.3,460.5 681.7,462.0 683.3,461.9 681.5,460.1 679.5,458.9 676.9,457.8 677.4,456.6 673.8,456.1 671.9,453.8 670.5,451.3 667.7,449.7 667.0,446.3 671.1,444.9 670.7,447.2 672.6,445.8 674.4,448.4 675.4,450.5 677.9,451.3 680.5,452.9 683.0,454.5 685.0,456.6 685.6,458.4 685.2,460.6 686.9,463.2 688.6,465.5 689.6,467.2 690.6,469.2 691.5,472.1 692.8,473.2 694.8,473.0 695.0,470.7 694.6,468.7 696.0,468.6 697.3,467.6 695.6,466.1 694.0,464.6 693.7,462.0 694.4,460.1 696.3,462.3 697.9,461.3 697.0,459.4 699.9,459.7 701.9,460.0 702.5,462.0 704.7,461.0 707.5,459.2 709.8,459.0"/>
<polyline points="709.8,458.6 707.1,457.2 707.5,456.2 706.8,453.9 707.1,452.2 708.5,450.1 711.0,446.5 713.2,443.6 714.0,442.1 716.0,442.0 718.3,443.4 721.3,443.6 718.8,445.7 721.4,448.3 723.5,448.7 726.1,446.7 728.7,445.8 725.3,445.2 725.2,443.2 727.5,442.0 731.7,441.2 735.1,440.2 732.9,442.7 732.4,445.1 729.4,446.3 731.4,448.1 735.1,450.4 736.8,451.5 740.1,453.5 742.1,457.6 738.1,459.2 733.6,459.2 730.0,458.9 727.4,458.0 725.0,455.8 722.9,456.5 720.0,456.2 716.3,458.0 713.4,458.3 710.8,458.7 709.8,458.3"/>
<polyline points="702.7,462.2 702.9,463.5 704.1,466.0 704.9,466.9 705.2,470.1 705.9,471.5 708.2,472.2 710.2,473.7 713.9,472.2 717.3,473.5 721.3,474.4 723.9,472.0 727.1,471.7 728.2,472.8 727.2,474.4 727.2,478.9 726.4,480.6 724.7,483.8 724.6,486.5 723.5,488.4 721.4,489.6 718.1,488.6 715.2,487.9 712.4,488.7 709.8,490.0 706.0,489.1 702.7,488.8 700.1,487.6 697.5,487.2 696.1,486.2 693.5,484.5 691.0,483.9 687.0,484.8 686.6,489.3 685.2,492.1 682.8,491.4 680.3,490.1 676.8,488.5 674.8,485.8 672.3,485.0 669.6,484.1 665.3,483.0 663.7,481.7 661.8,479.9 663.6,477.7 663.0,475.2 663.4,472.8 664.1,471.6 662.2,470.7 661.0,470.7 658.2,471.4 653.7,471.2 651.4,472.1 649.2,472.1 645.7,471.8 643.8,472.2 640.6,472.9 638.8,473.1 636.1,475.4 633.6,476.5 630.7,477.2 628.7,476.6 626.0,477.0 622.2,474.4 621.3,474.7 619.9,477.5 618.9,480.3 616.5,481.9 614.1,483.1 612.1,485.8 611.1,488.4 611.3,491.1 610.4,494.0 608.1,496.1 605.3,497.7 603.4,498.9 601.4,502.1 599.3,504.5 597.5,507.8 595.1,511.2 593.4,515.4 593.4,518.4 592.5,519.9 594.3,522.9 594.2,526.2 595.1,529.1 594.5,531.5 594.2,534.0 593.2,536.5 591.6,539.6 593.6,542.0 593.5,545.7 595.3,549.0 597.8,551.2 600.1,552.9 601.1,555.3 602.4,558.2 604.5,559.2 605.4,562.0 608.0,564.1 610.0,566.7 613.2,568.5 616.6,570.6 620.8,569.6 623.4,568.1 626.0,568.0 628.7,569.0 631.1,569.2 633.4,568.1 636.0,566.8 638.7,565.2 642.3,564.6 644.7,564.4 647.5,564.9 650.0,568.2 651.6,571.1 654.1,570.6 657.2,570.0 658.6,570.6 659.9,572.1 660.9,574.8 661.3,576.7 660.4,580.8 659.5,583.0 659.2,585.8"/>
<polyline points="718.2,488.7 718.5,492.5 719.3,495.8 721.3,498.6 722.6,501.8 723.8,505.1 724.7,508.4 726.5,511.1 726.7,513.8 730.0,517.1 730.4,519.8 730.8,524.0 731.4,526.8 734.1,529.1 734.8,531.3 735.5,533.4 736.8,536.7 738.7,538.6 741.6,542.3 744.0,544.1 746.4,545.7 745.7,548.6 746.7,549.9 748.2,551.7 750.6,552.5 754.4,551.3 758.3,549.9 762.2,549.4 765.6,547.8 766.3,552.1 765.8,553.8 764.3,556.5 763.4,558.5 761.7,561.3 761.3,563.0 761.0,565.4 759.7,568.6 758.3,570.3 756.5,572.5 755.4,574.6 753.7,575.8 751.7,577.9 749.3,579.6 747.7,580.8 745.2,584.1 744.2,585.4"/>
<polyline points="718.7,492.7 719.4,495.4 719.7,497.2 722.9,499.5 724.3,497.5 724.8,494.5 725.2,498.8 726.6,501.5 728.8,505.0 730.0,507.8 730.9,509.5 732.6,510.9 734.6,513.6 735.1,516.7 735.5,518.8 736.5,520.7 738.1,522.9 739.6,525.2 740.6,528.0 741.6,530.5 742.7,532.1 744.3,534.9 745.2,536.8 746.0,539.2 746.2,542.7 746.8,545.6 750.8,545.1 754.5,543.2 758.2,541.2 760.4,540.1 763.3,539.2 765.5,537.5 769.0,535.3 771.9,533.3 776.0,532.1 778.3,529.3 781.1,527.5 782.1,526.3 783.2,524.1 783.5,521.8 786.0,518.8 788.5,515.8 785.1,512.0 781.2,510.0 779.7,507.7 779.8,503.6 778.8,505.7 776.6,507.0 774.8,510.0 771.9,510.0 769.3,510.4 767.1,509.1 767.0,506.7 766.2,504.6 765.5,506.2 763.9,505.6 763.6,503.2 761.9,500.6 759.9,498.4 758.1,494.9 759.4,492.7 761.6,491.7 763.8,493.5 764.9,496.1 766.8,498.7 769.6,501.0 773.1,502.7 777.4,501.9 779.4,501.8 781.1,502.2 782.1,506.0 785.9,506.6 790.4,507.0 792.7,507.4 796.0,507.2 800.2,507.5 802.1,506.8 805.0,506.9 806.4,508.5 807.9,511.3 809.4,512.3 811.3,514.9 814.1,514.5 811.8,516.2 812.8,517.6 814.0,520.3 816.6,521.2 819.6,519.2 820.5,516.7 821.3,518.6 821.0,523.5 821.2,526.0 821.4,528.1 821.9,530.6 822.5,533.5 823.2,535.3 824.6,538.1 825.0,541.3 825.2,542.7 826.6,545.7 828.9,549.7 830.5,553.5 831.2,556.7 832.9,559.4 835.2,557.0 836.9,555.7 839.3,552.5 839.3,549.1 839.3,546.1 840.4,544.2 840.2,540.9 839.8,538.5 840.8,535.3 843.5,533.9 845.7,533.1 848.0,530.3 850.2,527.2 852.3,525.6 854.1,523.1 856.4,522.3 857.2,519.5 860.2,517.8 863.6,517.4 866.1,516.2 869.0,515.4 869.9,516.1 870.6,520.2 870.9,521.8 872.9,524.0 873.3,526.1 875.0,527.8 876.1,531.1 875.8,535.1 878.6,536.0 880.9,534.1 882.5,532.3 884.1,534.2 884.8,538.5 885.7,540.7 886.1,542.8 886.1,545.1 887.2,547.6 886.6,552.0 886.1,556.5 886.1,559.3 888.2,561.9 889.5,564.5 890.9,567.2 892.0,571.0 893.5,574.6 894.9,576.6 897.1,578.0 899.2,579.6 900.4,579.9 901.3,577.8 899.5,574.9 898.8,571.2 898.0,567.4 895.9,565.0 894.0,563.2 891.6,562.3 890.5,558.2 889.9,555.8 888.5,552.1 890.1,548.4 890.5,544.1 891.5,542.7 893.0,545.1 895.6,546.8 897.7,548.2 899.4,552.0 902.0,552.3 902.8,556.8 902.8,557.8 904.7,556.3 906.8,554.1 908.3,552.0 910.8,551.4 913.2,549.0 914.2,546.2 914.3,543.0 913.5,538.7 911.9,536.2 909.6,532.7 906.9,529.8 905.1,526.5 905.2,523.6 906.9,521.2 909.3,518.9 911.9,518.5 913.7,518.8 915.4,518.6 916.6,521.9 917.4,519.4 919.5,518.8 923.0,517.7 924.7,516.7 926.8,516.4 929.9,515.1 932.9,513.4 934.7,510.9 936.3,509.9 937.6,508.4 939.7,506.5 940.4,503.9 942.2,501.2 943.9,498.1 945.5,495.6 946.5,492.8 943.4,491.4 946.0,489.8 945.6,487.8 944.6,486.7 943.5,484.4 942.0,480.6 939.0,478.2 939.2,476.8 942.3,474.5 945.4,472.1 948.0,471.3 944.9,469.7 941.3,469.9 939.0,470.9 937.0,468.4 935.8,465.6 938.0,464.8 940.6,462.7 944.1,459.6 946.6,460.7 944.4,463.8 945.0,465.9 947.7,464.1 951.7,462.9 953.8,463.6 954.1,466.5 953.0,468.2 956.2,469.1 957.6,470.3 957.6,472.7 957.6,476.3 957.4,478.6 960.6,478.4 963.5,477.2 965.1,474.4 965.1,471.5 963.1,467.1 960.4,464.1 961.1,462.7 963.9,461.1 966.0,459.0 966.4,455.8 968.5,455.6 971.8,452.9 974.5,453.7 977.0,451.6 978.7,450.1 980.5,448.2 983.2,445.8 985.4,443.8 987.3,441.1 988.7,438.8 989.9,436.1 990.9,434.0 992.7,431.5 993.2,427.5 995.6,424.6 995.5,422.7 992.9,421.0 990.0,419.4 985.5,419.5 984.7,417.3 980.5,417.1 983.4,415.2 985.5,413.4 987.3,412.0 989.1,409.7 992.0,408.5 994.1,406.0 997.7,404.6 1000.4,402.9 1003.1,402.8 1006.0,403.2 1009.9,402.8 1012.7,403.2 1016.1,402.3 1020.4,402.7 1022.9,404.2 1025.4,404.3 1027.6,404.3 1030.5,403.6 1032.5,401.1 1034.2,398.6 1036.8,396.4 1040.6,396.1 1044.3,396.4 1047.5,395.0 1050.9,394.0 1054.6,393.4 1053.3,395.0 1050.8,396.8 1048.3,399.5 1045.9,400.7 1043.4,401.6 1041.6,403.3 1040.1,404.6 1037.7,406.9 1036.3,408.5 1034.7,410.3 1032.5,413.4 1032.2,418.1 1032.2,420.1 1032.6,422.9 1032.9,425.6 1033.9,427.6 1034.5,428.9 1035.8,426.9 1037.7,424.8 1039.5,422.5 1042.8,420.3 1043.1,417.4 1045.0,417.0 1047.9,416.9 1048.5,412.7 1051.8,412.9 1051.0,408.6 1049.1,405.6 1051.4,405.0 1053.0,402.7 1055.8,402.2 1058.7,401.2 1061.3,400.8 1064.7,399.7 1067.4,400.2 1069.7,401.7 1071.2,399.4 1073.7,398.1 1076.8,397.3 1079.8,395.6 1082.8,395.1 1086.4,394.1 1089.3,393.7 1092.5,394.0 1092.4,391.7 1090.1,390.4 1089.1,388.0 1087.4,387.3 1091.5,386.3 1094.6,386.2 1096.3,385.3"/>
<polyline points="175.5,386.1 178.3,386.0 180.8,385.7 182.8,385.2 185.7,384.9 189.8,386.7 192.3,387.7 195.3,388.2 196.9,385.9 200.9,384.2 203.5,383.2 204.0,382.6 202.3,381.3 199.5,380.6 196.4,379.8 194.3,380.1 192.6,379.7 189.5,378.5 186.4,377.8 183.3,376.6 180.7,375.0 178.3,374.6 175.5,374.1"/>
<polyline points="1096.5,374.2 1094.6,374.0 1091.6,373.9 1088.6,372.9 1085.8,372.4 1083.5,371.7 1081.5,371.4 1079.3,371.6 1076.8,371.5 1073.7,371.2 1070.1,370.9 1068.3,373.7 1070.1,374.9 1065.8,372.0 1063.4,371.7 1060.7,371.9 1058.8,371.5 1056.0,372.4 1053.1,371.8 1049.4,371.6 1046.9,372.5 1042.9,370.6 1040.7,370.2 1038.0,368.8 1035.6,367.9 1033.0,368.1 1030.0,368.3 1028.2,368.2 1025.2,368.1 1022.4,366.9 1020.2,367.2 1017.7,366.2 1015.2,363.9 1012.7,363.3 1009.8,364.5 1007.7,363.5 1004.5,362.8 1001.9,362.7 1000.3,362.7 997.6,363.0 995.5,362.7 992.4,363.4 989.2,365.2 987.2,366.0 984.5,366.0 982.0,365.9 979.3,366.0 977.2,366.2 974.1,366.9 972.0,366.9 969.3,367.1 965.3,368.4 964.2,365.2 965.7,363.0 961.9,360.7 959.5,360.2 956.6,359.8 954.5,359.6 951.2,359.9 947.9,361.6 944.6,361.5 941.3,362.0 939.0,361.7 935.8,360.9 933.9,360.1 931.5,360.1 928.3,359.8 925.1,359.2 921.6,358.6 918.7,358.3 915.5,358.8 913.8,359.4 911.4,360.3 908.2,361.1 911.3,359.5 913.3,357.7 915.9,356.4 918.3,355.3 920.6,353.2 923.2,351.6 921.5,352.1 918.2,351.4 915.5,350.3 912.7,350.9 910.8,350.7 908.6,349.4 905.1,349.5 902.8,348.9 900.7,348.0 897.6,348.7 896.1,349.4 893.0,351.0 891.1,351.0 888.1,351.2 885.3,351.9 882.4,352.8 880.2,353.1 878.0,353.0 875.8,354.0 872.6,352.9 869.8,353.1 867.3,353.7 865.1,353.7 863.1,354.7 859.6,354.5 857.4,355.9 855.1,358.8 852.3,358.4 849.6,360.2 847.0,360.2 844.2,360.3 840.8,360.2 843.8,362.8 845.9,364.5 846.5,366.7 846.9,369.4 844.6,366.7 841.8,366.1 839.3,364.8 836.8,363.7 834.2,363.9 832.2,364.5 828.9,364.0 826.9,362.5 825.6,364.6 821.7,366.6 824.2,368.2 825.2,370.9 824.3,372.9 824.5,375.4 827.0,378.3 824.9,378.9 821.9,380.1 819.1,381.4 816.0,381.9 814.2,381.1 816.0,380.0 819.3,378.3 819.2,376.5 820.4,373.8 821.4,372.2 821.0,369.5 820.1,366.8 820.1,362.8 816.9,361.8 814.0,360.7 811.9,361.7 809.1,363.3 806.8,366.7 805.7,371.1 806.4,374.1 810.2,375.8 808.3,375.8 805.5,375.2 802.2,373.3 799.9,372.9 797.5,372.8 793.8,372.3 791.1,371.8 790.2,374.3 786.2,375.5 784.1,376.1 781.2,375.3 777.4,375.4 775.0,376.0 771.1,374.2 768.8,375.8 766.3,376.6 763.1,376.7 761.0,378.0 758.1,377.8 754.4,376.7 750.9,376.2 748.7,375.3 746.4,375.2 747.7,379.5 749.0,381.9 743.8,381.6 742.3,382.4 738.7,383.6 737.8,387.2 735.8,386.9 732.5,388.2 729.5,388.9 727.1,388.1 725.2,388.2 723.6,385.4 722.4,383.2 719.9,381.8 718.3,379.8 722.4,380.7 724.9,381.6 728.1,381.9 730.6,381.7 734.2,382.4 737.4,381.6 740.2,380.6 741.1,377.7 738.3,377.2 736.4,376.2 733.9,375.5 732.4,375.5 729.8,373.8 727.4,373.5 724.0,372.5 721.3,372.7 717.4,371.4 714.5,371.3 715.1,371.1"/>
<polyline stroke-width="2.1" points="621.5,431.5 625.7,431.2 628.3,430.0 632.4,429.4 636.5,429.6 639.4,428.3 638.5,426.5 640.6,424.0 636.5,422.5 635.8,421.1 635.6,418.8 632.9,417.2 631.6,415.1 630.3,413.4 628.6,413.7 629.9,412.4 631.2,409.8 631.4,408.8 626.9,408.0 625.0,408.9 628.2,405.5 626.1,404.9 623.4,405.5 622.2,408.0 621.4,410.2 621.9,412.9 621.8,415.3 623.6,414.9 623.4,416.9 627.0,417.0 628.0,419.3 628.6,421.6 624.4,421.6 625.1,423.3 624.3,425.5 623.0,426.4 625.8,426.7 628.1,427.7 627.5,427.8 624.4,429.0 621.6,431.4"/>
<polyline stroke-width="2.2" points="620.0,425.1 615.3,426.5 613.4,426.3 611.2,427.4 609.6,425.7 611.9,423.9 610.4,421.2 611.1,418.4 614.1,417.5 615.4,416.3 617.9,415.6 620.8,416.0 622.1,418.2 620.5,419.3 620.4,422.1 620.2,425.4"/>
<polyline stroke-width="2.4" points="657.4,465.3 660.3,464.8 660.8,460.4 659.4,458.4 657.0,459.6 657.2,462.6 657.4,465.6"/>
<polyline stroke-width="2.4" points="667.8,468.3 669.9,468.6 672.5,468.2 676.0,467.5 674.4,469.8 674.1,472.6 671.7,470.9 669.4,471.1 667.9,469.2 667.5,468.3"/>
<polyline points="718.2,477.4 720.6,476.8 723.7,475.9 722.7,477.4 719.9,478.7 718.5,477.4"/>
<polyline stroke-width="2.0" points="839.0,559.6 839.8,556.6 840.1,554.5 842.8,558.2 843.6,560.1 844.4,562.6 842.2,565.3 840.1,565.9 839.1,563.0 839.3,559.6"/>
<polyline points="890.4,585.5 889.0,583.9 887.9,581.4 887.1,579.6 885.3,578.2 882.5,574.7 880.6,572.1 880.1,570.0 878.8,567.1 881.9,567.1 884.1,568.2 886.8,571.9 888.1,574.6 890.4,576.5 892.6,578.3 894.2,580.1 896.9,580.9 899.4,584.0 900.9,585.7"/>
<polyline points="913.9,585.5 913.0,584.0 913.2,579.6 914.7,577.8 918.7,578.9 919.3,575.9 923.2,574.1 924.4,572.6 926.4,570.2 927.4,568.1 930.2,567.5 932.1,565.4 933.2,562.9 935.4,564.8 937.3,567.5 939.1,568.8 936.8,570.6 935.2,571.8 935.9,574.3 936.5,576.6 936.4,581.2 934.9,584.1 934.8,585.8"/>
<polyline stroke-width="2.3" points="942.1,535.3 942.7,532.8 942.6,531.1 942.5,528.0 944.1,527.4 946.6,527.5 946.6,532.2 944.8,536.1 945.4,539.5 947.4,541.1 950.1,542.3 951.4,544.7 951.7,545.5 948.6,543.1 946.5,542.3 944.0,542.5 942.9,540.6 941.4,538.1 941.9,535.4"/>
<polyline stroke-width="2.3" points="946.4,562.7 948.9,559.8 950.0,557.7 952.9,556.5 955.1,554.5 956.6,556.3 957.9,559.5 957.3,562.5 956.8,564.1 955.4,566.2 951.5,565.3 951.5,561.5 949.0,561.6 946.3,562.9"/>
<polyline stroke-width="2.4" points="934.2,558.4 936.4,557.3 937.3,555.1 939.1,552.4 940.2,550.0 939.3,552.3 938.5,555.5 936.4,557.2 934.4,558.7"/>
<polyline stroke-width="2.2" points="941.8,514.0 943.2,517.2 945.1,514.6 945.6,512.3 946.2,509.8 946.1,507.7 944.7,507.1 942.9,509.8 942.1,513.8"/>
<polyline stroke-width="2.2" points="912.6,525.5 914.4,528.7 917.3,526.5 918.5,523.9 917.2,522.8 914.6,523.1 912.3,525.8"/>
<polyline stroke-width="2.4" points="967.3,481.7 965.8,483.8 966.6,486.7 968.0,489.0 969.4,488.6 970.4,486.8 971.5,483.8 969.5,480.6 967.1,481.9"/>
<polyline points="969.3,480.5 973.1,479.3 976.8,478.2 980.0,478.3 979.8,481.7 981.8,482.4 984.5,478.6 984.1,477.6 987.6,478.8 989.3,479.0 991.6,476.6 991.8,475.5 992.1,477.8 994.6,475.6 993.9,472.9 994.6,469.6 995.1,467.6 996.4,465.5 997.4,461.9 995.9,460.5 996.0,458.2 994.3,459.1 993.2,458.5 992.0,460.8 992.3,463.4 991.9,465.8 989.7,468.4 987.7,471.0 985.5,470.1 983.9,471.1 983.5,471.8 982.1,474.7 982.3,475.7 980.1,476.0 977.3,475.6 974.4,476.2 972.1,477.1 969.5,479.3 969.4,480.5"/>
<polyline stroke-width="2.1" points="992.2,457.7 993.3,454.8 991.5,454.2 992.8,452.0 995.3,452.6 996.5,448.3 996.4,445.7 998.3,447.3 1001.2,449.1 1005.5,449.5 1005.7,451.3 1007.0,452.0 1003.6,452.8 1000.4,456.0 997.0,454.8 994.8,455.2 993.5,455.3 995.1,456.5 991.9,457.8"/>
<polyline stroke-width="2.2" points="997.3,444.0 997.1,440.7 997.7,438.5 997.6,436.6 997.6,432.0 997.0,427.3 996.8,422.9 998.4,418.7 1000.3,422.4 1000.7,427.0 1000.6,429.1 1000.9,431.7 1003.4,435.0 999.7,434.0 999.1,437.8 999.8,441.2 1001.4,442.7 1000.9,443.4 999.2,441.6 997.3,443.7"/>
<polyline points="401.7,441.8 405.9,441.9 409.9,441.1 412.9,439.4 410.9,441.2 413.8,442.4 417.5,442.2 419.6,441.3 420.4,442.7 420.8,441.1 420.0,438.4 416.4,435.7 414.1,435.9 411.4,435.1 408.9,437.6 405.4,439.1 404.2,440.3 401.9,442.0"/>
<polyline points="413.1,457.0 412.1,453.0 413.2,449.2 412.0,448.4 414.1,446.4 415.1,445.3 418.5,443.7 419.4,444.8 418.6,447.2 416.7,448.8 416.0,451.2 416.8,454.3 415.5,456.0 414.5,457.1 413.1,456.9"/>
<polyline points="420.5,444.6 423.7,446.2 423.8,447.6 423.9,449.4 422.8,450.7 424.8,450.1 426.3,453.1 427.8,451.8 427.8,448.4 429.1,446.2 432.7,448.4 432.1,445.8 429.6,443.8 426.9,443.6 424.5,443.0 421.9,443.6 420.2,444.5"/>
<polyline points="423.8,456.7 425.9,457.4 428.7,457.3 431.0,456.1 435.0,453.7 434.7,453.3 431.8,454.5 428.6,454.0 426.3,455.2 423.6,456.8"/>
<polyline points="433.0,452.2 436.2,451.7 440.2,451.9 442.0,450.9 441.3,449.3 439.0,450.3 435.3,450.6 433.2,452.1"/>
<polyline points="389.7,430.6 391.0,427.0 388.5,424.0 387.4,422.1 385.7,420.6 387.1,420.3 389.3,423.9 390.3,426.2 390.9,429.1 389.9,430.2"/>
<polyline points="385.9,430.6 384.5,427.9 382.5,425.1 381.8,422.6 383.7,425.5 385.0,427.5 385.7,430.7"/>
<polyline points="338.3,398.3 340.2,398.4 343.4,398.8 347.3,397.5 350.7,395.0 354.3,394.2 357.7,393.4 353.8,393.0 350.1,393.7 347.2,394.5 344.4,394.7 341.9,395.4 338.0,397.0 338.5,398.0"/>
<polyline points="321.8,385.5 325.4,385.4 328.2,385.8 330.4,385.5 333.5,384.7 335.5,381.2 332.2,379.9 329.3,381.1 327.0,381.3 323.0,382.5 319.1,383.7 321.7,385.2"/>
<polyline points="353.1,405.3 356.5,404.5 359.0,404.1 361.9,403.5 364.7,403.7 361.5,403.5 358.7,402.8 355.6,403.7 353.2,405.3"/>
<polyline points="375.2,412.0 377.5,409.5 376.7,407.3 374.3,409.6 375.2,411.8"/>
<polyline points="376.5,392.2 379.2,391.9 378.4,390.6 376.4,392.2"/>
<polyline points="454.1,382.2 458.3,381.6 456.4,380.3 454.4,382.5"/>
<polyline points="409.5,433.3 412.4,432.9 410.7,430.7 409.8,433.5"/>
<polyline points="755.6,445.5 758.4,442.2 761.6,442.1 765.5,441.2 769.6,443.7 770.8,446.3 767.2,448.3 764.0,448.6 766.0,452.3 769.3,453.9 769.8,457.8 773.3,457.1 774.3,459.1 770.6,460.1 770.6,462.2 772.3,465.6 772.8,467.6 772.9,469.9 772.8,471.7 770.1,471.6 768.6,472.4 764.6,471.2 761.7,469.8 760.5,467.1 761.5,463.5 763.6,461.3 760.9,458.4 757.8,454.9 757.1,453.1 756.8,450.1 755.1,447.6 755.9,445.6"/>
<polyline points="784.3,447.0 786.0,445.2 787.6,443.1 791.5,441.7 792.8,444.0 791.9,447.9 788.9,451.0 785.6,451.1 784.4,447.1"/>
<polyline points="823.0,445.5 825.3,441.7 828.9,441.6 831.8,441.8 833.8,442.7 836.7,441.6 834.6,443.4 830.8,443.4 828.2,443.1 826.6,444.7 824.0,447.2 823.0,445.2"/>
<polyline points="899.9,426.9 902.4,425.1 904.5,423.9 907.3,422.8 909.4,420.8 911.7,418.9 913.6,417.5 915.1,414.1 914.3,416.2 912.7,419.2 911.9,420.7 909.7,422.9 906.9,424.7 903.0,426.6 899.9,426.7"/>
<polyline points="712.8,401.3 716.2,401.1 719.5,399.4 718.4,397.3 714.6,395.9 712.5,398.0 712.7,401.2"/>
<polyline points="723.8,398.3 727.5,397.9 726.0,393.7 723.7,394.2 723.5,398.1"/>
<polyline points="667.8,405.9 671.2,405.2 671.9,403.4 668.8,403.6 668.0,405.8"/>
<polyline points="830.1,455.2 832.6,454.8 835.5,455.3 833.2,454.0 829.8,455.2"/>
<polyline points="670.3,544.4 673.9,545.1 673.0,541.9 670.3,544.5"/>
<polyline points="727.6,575.8 729.1,574.1 727.9,570.2 727.0,571.9 727.4,576.0"/>
<polyline points="716.9,585.5 717.2,583.8 720.1,582.9 722.7,583.5 723.0,585.4"/>
<polyline points="730.1,548.4 731.4,548.4 731.0,546.6 730.4,547.0 730.4,548.4"/>
<polyline points="713.4,580.7 715.9,578.3 715.8,576.9 714.5,577.9 713.5,580.7"/>
<polyline points="889.7,472.3 892.2,472.3 891.8,470.4 889.7,471.1 889.4,472.6"/>
<polyline points="971.9,448.2 973.9,448.4 973.4,446.4 971.9,446.2 971.9,448.0"/>
<polyline points="751.0,470.7 752.5,470.2 751.7,468.0 750.6,468.6 750.8,470.8"/>
<polyline points="743.9,466.8 746.2,467.2 746.5,464.9 744.7,465.5 743.6,466.5"/>
<polyline points="899.9,543.8 901.8,546.0 900.9,544.5 900.0,544.0"/>
<polyline points="887.9,357.8 891.1,358.3 892.8,357.6 896.1,357.8 898.3,357.4 900.6,356.5 903.1,356.4 900.5,355.8 898.6,356.0 895.8,356.8 892.9,357.7 890.0,357.1 887.6,357.6"/>
<polyline points="417.2,549.9 419.7,549.6 418.6,547.1 417.1,549.8"/>
<polyline points="453.1,554.2 454.7,556.2 455.1,553.1 453.8,551.3 453.0,553.9"/>
<polyline points="847.7,438.2 852.0,437.3 849.9,436.8 847.5,437.9"/>
<polyline points="844.1,418.7 847.5,416.9 846.4,416.7 844.2,418.7"/>
<polyline points="732.2,406.8 734.8,406.4 733.9,404.3 732.3,407.0"/>
<polyline points="759.4,418.7 761.3,416.2 763.0,415.7 760.8,419.2 759.6,418.9"/>
<polyline points="777.2,406.8 778.9,404.4 780.0,403.5 778.7,406.5 776.9,406.6"/>
<polyline points="751.3,434.2 752.6,430.1 753.7,429.7 752.3,434.4 751.5,434.2"/>
<polyline points="742.9,438.8 746.0,436.7 745.1,436.5 743.2,439.0"/>
<polyline points="754.3,426.3 756.6,424.7 756.9,423.3 754.6,426.6"/>
<polyline points="446.9,430.6 449.9,427.5 449.0,428.1 446.7,430.8"/>
<polyline points="459.9,428.4 462.4,428.2 462.3,426.5 460.3,426.7 459.9,428.4"/>
<polyline points="470.1,420.2 472.2,419.2 474.9,419.1 472.9,417.7 470.1,420.5"/>
<polyline points="444.4,436.6 447.2,436.2 445.4,435.6 444.4,436.5"/>
<polyline points="720.5,466.8 721.9,466.1 720.8,465.5 720.8,466.5"/>
<polyline points="719.7,511.2 719.1,514.0 716.4,516.2 718.6,514.9"/>
<polyline points="322.5,434.8 393.9,434.8 395.3,435.7 399.4,436.0 403.2,437.6 407.0,437.6 408.3,437.9 411.1,437.0 415.9,438.8 420.2,441.2 421.0,442.4 423.5,444.0 426.1,446.1 426.3,453.1 426.1,454.3 424.6,455.5 425.6,457.0 429.9,455.5 435.0,453.7 435.0,452.2 436.3,451.3 440.6,451.3 441.6,449.7 445.2,447.0 454.1,447.0 455.9,445.8 457.1,444.3 457.9,441.8 459.9,439.7 462.2,439.7 463.5,440.6 463.5,444.6 464.5,446.1 465.5,447.6"/>
<polyline points="338.0,485.1 340.7,485.1 344.1,484.7 346.2,485.9 348.5,486.8 351.3,487.2 353.2,488.7 356.5,488.9 358.9,489.0 360.6,489.0 360.8,487.2 365.1,487.0 367.0,488.8 369.1,490.4 370.0,493.7 373.7,495.7 375.5,493.0 378.2,493.4 380.6,496.5 382.7,500.3 384.0,503.7 386.8,504.5 388.4,505.3"/>
<polyline points="277.2,372.1 277.2,400.4 282.3,401.3 286.1,404.4 288.7,402.9 292.5,402.9 295.0,405.0 297.6,408.9 300.1,411.1 303.9,413.5 305.2,416.6"/>
<polyline points="320.5,443.3 323.3,443.6 323.7,444.8 327.8,445.3 332.3,443.9 332.9,443.9 335.2,444.0 338.3,444.3"/>
<polyline points="338.3,434.8 338.3,444.0 338.6,445.5 339.6,446.1 338.3,449.1 338.3,456.1"/>
<polyline points="319.7,456.1 353.6,456.1"/>
<polyline points="330.7,456.1 330.7,465.3 344.4,477.4 344.7,479.9 344.2,484.4"/>
<polyline points="345.9,456.1 345.9,474.1 344.2,474.1 344.4,477.4"/>
<polyline points="345.9,471.4 395.3,471.4"/>
<polyline points="340.8,434.8 340.6,438.0 341.6,439.1 344.4,442.0 344.9,445.6 347.1,447.1 348.2,448.3 351.2,447.8 353.5,448.4"/>
<polyline points="353.6,447.0 353.6,459.2"/>
<polyline points="353.6,447.0 371.4,447.0"/>
<polyline points="353.6,459.2 376.5,459.2 376.5,471.4"/>
<polyline points="358.7,459.2 358.7,488.7"/>
<polyline points="371.4,434.8 371.4,459.2"/>
<polyline points="371.4,444.1 390.2,444.1"/>
<polyline points="388.7,434.8 389.7,436.9 390.0,439.7 390.0,443.7 389.9,446.5 389.9,448.6 390.5,451.3 390.2,454.3"/>
<polyline points="371.4,453.1 373.6,453.3 375.8,453.2 378.4,453.4 380.1,452.7 383.4,452.6 385.6,453.3 387.3,453.7 390.5,454.6 391.5,457.6 392.1,460.5 393.4,462.0 395.0,465.0 394.9,466.9 395.4,470.8 395.4,472.6 396.0,475.9 395.5,479.5 395.4,481.7 396.7,482.0 396.6,484.9 396.0,487.2 396.6,489.7 397.1,493.7"/>
<polyline points="376.5,462.2 393.5,462.2"/>
<polyline points="373.9,471.4 373.9,472.9 381.6,472.9 381.6,478.7 384.1,479.9 386.6,480.2 389.2,481.1 391.7,481.1 394.3,480.8 395.5,481.7"/>
<polyline points="373.9,472.9 373.9,486.6 364.8,486.6 365.0,487.2"/>
<polyline points="396.7,483.5 403.9,483.5"/>
<polyline points="395.3,472.9 398.4,472.3 401.3,473.3 404.0,472.3 406.3,472.7 406.2,474.6 407.4,474.4"/>
<polyline points="390.6,451.6 403.9,451.6"/>
<polyline points="392.2,460.4 403.4,460.7"/>
<polyline points="401.7,441.8 401.5,443.6 400.1,445.5 400.0,447.8 401.1,449.0 403.5,450.3 404.1,451.6 404.4,453.8 406.4,456.9 404.5,458.8 403.4,461.2 402.9,462.4 405.2,464.5 406.8,466.0 406.8,468.6 408.1,470.7 409.2,471.1 408.0,472.6 407.9,474.1 406.4,477.2 404.2,480.6 403.7,483.8 404.8,485.4 402.7,489.9 405.1,489.3 408.0,489.6 408.5,492.3"/>
<polyline points="405.5,454.6 412.6,454.6"/>
<polyline points="406.0,442.4 408.3,443.4 411.7,444.4 413.1,446.7"/>
<polyline points="413.4,457.0 413.9,460.0 413.8,462.5 413.2,464.2 413.4,466.2 411.8,468.9"/>
<polyline points="420.2,457.0 420.2,465.0"/>
<polyline points="414.6,456.9 423.5,457.0"/>
<polyline points="431.2,456.1 431.1,460.4 430.8,463.5 428.2,465.3 425.6,466.8 422.7,466.2 419.9,464.9 418.5,466.8 417.3,468.1 414.9,468.9 412.4,468.7 410.8,471.2 409.3,471.0"/>
<polyline points="408.3,472.9 423.0,472.6 442.9,472.7"/>
<polyline points="406.2,477.4 421.5,477.4 424.6,477.4 426.3,476.8 429.9,477.1 430.4,478.1 433.2,478.1 436.0,480.8"/>
<polyline points="421.5,477.4 424.2,475.3 427.1,474.2 427.8,472.8"/>
<polyline points="411.6,477.4 411.1,489.6 411.1,491.8"/>
<polyline points="418.2,477.4 418.9,480.9 419.1,484.0 419.4,486.8 419.4,489.6 419.7,490.3 423.9,490.8 426.7,491.3 428.3,490.4"/>
<polyline points="413.4,491.8 413.1,489.6 419.7,489.6"/>
<polyline points="424.6,477.4 425.6,478.9 427.3,482.1 428.4,483.7 429.7,486.3"/>
<polyline points="423.0,472.6 426.0,469.4 429.0,470.4 431.8,470.1 434.0,466.5 436.6,464.4 438.2,464.3 439.7,465.7 442.0,468.5"/>
<polyline points="431.2,463.1 443.1,463.1 443.6,466.8"/>
<polyline points="433.1,456.1 436.0,455.8 439.0,456.1 441.2,456.0 444.2,456.1 446.1,458.1 444.7,459.8 445.1,461.8 444.5,462.8"/>
<polyline points="449.5,447.0 449.2,451.2 449.4,454.3 449.3,456.1 448.8,458.6"/>
<polyline points="454.1,447.0 453.0,449.7 451.8,453.9"/>
<polyline points="455.3,446.1 455.1,449.6 456.3,452.9"/>
<polyline points="449.5,454.0 455.3,453.7"/>
<polyline points="449.0,456.0 451.6,456.7 454.3,456.0 453.1,458.2"/>
<polyline points="401.4,539.6 401.6,537.3 402.7,535.0 406.1,535.3 404.4,531.8 404.2,529.6 409.1,529.5 411.3,527.7"/>
<polyline points="409.0,529.8 408.6,532.3 408.9,535.8 410.1,535.3"/>
<polyline points="411.6,536.2 410.1,538.9 408.9,540.2 406.8,542.0"/>
<polyline points="408.8,540.2 410.4,541.6 412.3,543.2"/>
<polyline points="413.9,544.4 416.8,542.1 419.9,539.5 422.3,539.5 424.2,538.1"/>
<polyline points="417.9,550.2 420.2,550.7 423.3,550.6"/>
<polyline points="425.1,559.3 426.1,556.4 426.1,554.8"/>
<polyline points="437.8,562.1 439.2,560.2 439.6,557.8"/>
<polyline points="454.6,548.1 453.5,549.7 451.5,552.0 451.2,555.8 451.6,558.2 451.6,561.2 454.2,562.7 457.5,562.4 459.3,563.8 461.5,564.8 464.2,564.9 463.3,568.2 463.6,570.7 463.7,573.0 464.5,576.4 465.4,580.1"/>
<polyline points="435.5,579.7 439.0,581.8 442.3,582.7 444.5,584.1 444.7,585.6"/>
<polyline points="465.8,580.3 463.0,580.5 460.2,579.6 458.3,579.0 458.2,581.9 457.7,584.9 459.5,585.6"/>
<polyline points="465.8,580.3 469.4,581.5 470.9,580.2 472.9,578.0 472.5,574.4 472.8,571.6 476.4,572.0 478.6,571.8 479.3,570.3 481.4,567.9"/>
<polyline points="481.6,568.2 480.2,565.4 480.9,563.7 482.4,561.5 483.6,558.8"/>
<polyline points="481.6,568.2 483.0,570.3 484.3,573.4 484.1,575.5 483.8,577.7 486.2,580.4 489.9,578.8 492.4,578.4 494.6,578.1 497.4,577.0 499.4,577.1 502.4,577.6 503.6,574.6 504.9,571.5"/>
<polyline points="490.5,565.7 489.8,568.1 490.4,570.9 489.5,573.6 491.0,576.1 492.0,578.5"/>
<polyline points="498.6,566.3 497.8,568.7 497.5,571.5 498.2,574.9 497.1,576.9"/>
<polyline points="453.6,524.0 452.8,526.8 453.4,529.4"/>
<polyline points="665.3,404.4 666.5,401.6 667.7,400.1 667.2,396.9 667.2,392.4 669.4,389.7 671.8,387.5 672.8,385.5 672.7,382.8 674.8,380.5 676.5,378.2 678.7,377.6 682.1,375.6 684.7,374.0 688.4,373.9 689.7,373.0 692.3,372.8 695.4,373.4 697.3,373.6 701.2,373.7 702.2,371.0 705.0,370.4 707.6,370.7 710.0,372.4 709.9,373.7 711.9,372.4 714.1,371.2"/>
<polyline points="697.1,383.7 696.2,380.2 695.5,377.1 694.0,375.1 692.0,374.6 689.6,373.3"/>
<polyline points="709.8,373.0 708.6,375.2 711.9,378.4 709.7,380.8 712.0,384.1 711.2,387.5 713.3,390.6 716.0,392.9 714.1,394.8 712.1,395.9 709.1,398.1 706.8,400.1"/>
<polyline points="686.1,418.2 688.2,418.8 691.9,418.8 693.7,418.5 695.5,419.9 696.6,423.5 695.9,425.4 697.0,429.4 694.9,430.8 693.4,433.2 693.8,434.6"/>
<polyline points="672.4,419.9 673.1,424.2 673.6,429.0 676.6,429.8 679.6,430.6 683.2,432.5 685.7,433.3 688.1,433.4 691.0,434.0 693.6,435.0"/>
<polyline points="657.9,416.9 661.3,417.2"/>
<polyline points="653.8,421.7 653.5,424.7 651.2,426.2 651.2,429.3 652.4,433.4 654.9,434.3 656.5,435.1 655.5,438.9 658.5,439.7 660.2,439.1 662.7,439.9 665.6,439.8 669.0,439.4 671.0,435.6 669.6,433.3 666.7,430.9 669.1,430.2 671.1,429.8 673.6,428.6"/>
<polyline points="644.7,427.5 646.9,427.7 650.9,428.1 651.6,429.1"/>
<polyline points="642.4,428.4 644.5,429.9 647.0,432.1 650.7,433.6 652.5,433.2"/>
<polyline points="655.3,439.1 653.9,439.6 652.2,441.6 651.0,443.5 654.0,444.2 653.9,447.1 655.1,450.6"/>
<polyline points="653.8,444.3 655.9,444.8 659.1,444.0 662.2,441.8 660.7,439.7"/>
<polyline points="662.5,441.5 664.9,440.6 666.9,440.9 670.7,442.1 674.1,442.5 676.7,441.5 679.8,437.6 678.8,435.7 677.2,435.2 673.9,434.8 671.0,435.7"/>
<polyline points="679.5,437.9 683.6,438.4 685.6,437.6 687.9,436.4 692.5,436.9 694.5,437.8 696.2,438.6 699.2,439.0 701.3,437.4 703.7,437.3 706.2,440.3 707.9,442.1 707.7,445.7 711.1,446.2"/>
<polyline points="693.5,434.8 692.8,436.7"/>
<polyline points="692.5,437.9 690.8,440.0 689.6,443.2 687.4,443.5 683.7,444.0 681.5,444.0 677.9,442.7 676.9,441.4"/>
<polyline points="687.7,443.7 688.5,446.2 690.1,447.4 693.8,449.4 696.9,449.8 699.1,450.2 702.1,449.6 704.8,449.6 708.5,451.1"/>
<polyline points="693.8,449.4 692.8,454.0 693.0,455.7 694.5,458.0 696.5,458.2 699.6,457.9 702.4,457.0 702.9,457.2 707.1,456.3"/>
<polyline points="702.2,460.1 702.9,457.1"/>
<polyline points="686.9,463.1 689.3,459.1 691.4,458.9 694.0,458.6"/>
<polyline points="685.4,456.4 688.5,455.3 688.1,458.9 689.7,459.2"/>
<polyline points="631.7,452.2 634.8,452.8 637.7,454.3 641.3,454.9 644.2,455.0"/>
<polyline points="613.6,456.4 616.4,457.0 619.6,456.5 618.2,459.4 618.4,463.2 617.3,465.8 616.7,468.5 617.2,470.8"/>
<polyline points="741.8,457.4 744.3,457.6 747.0,458.6 747.1,461.8 750.0,463.3 748.8,465.2 748.8,468.5 750.0,471.0 746.9,470.8 743.9,470.8 740.2,471.6 738.0,472.0 735.1,471.8 732.4,471.7 729.6,471.7 727.9,474.3"/>
<polyline points="750.0,463.1 752.5,464.8 754.6,465.7 758.4,463.5 760.7,467.1"/>
<polyline points="743.9,471.1 742.9,474.0 741.7,475.6 740.6,478.2 740.0,479.8 738.4,482.2 737.0,483.5 734.9,485.8 732.8,485.7 729.5,485.5 727.3,484.7 726.5,484.4 726.4,488.3 726.1,491.8 724.9,494.1"/>
<polyline points="725.3,483.2 727.3,482.4 729.2,479.8 727.7,478.4"/>
<polyline points="723.3,488.7 723.5,492.0 725.0,494.1"/>
<polyline points="735.2,485.7 735.8,486.1 733.3,487.1 730.4,488.4 732.8,491.1 731.6,493.0 727.8,495.0 724.8,494.7"/>
<polyline points="735.7,486.3 738.6,487.1 741.5,488.3 742.6,489.4 744.6,491.1 747.0,493.1 749.9,494.9 754.2,495.2 757.2,497.6 759.7,497.4"/>
<polyline points="754.3,495.4 755.3,492.7 758.2,492.7"/>
<polyline points="759.4,492.7 757.7,489.4 757.7,486.6 755.0,485.3 752.9,483.2 751.6,480.5 753.3,477.2 751.5,474.6 750.2,470.6"/>
<polyline points="744.9,534.1 746.3,531.3 749.3,531.3 752.5,531.9 755.6,532.4 757.9,528.4 760.4,527.9 763.2,528.1 765.9,527.1 768.4,526.1 771.1,525.6 773.0,523.8 776.1,523.0 776.3,520.1 778.0,516.7 776.7,515.0 773.0,514.8 769.5,514.2 768.6,512.5 767.6,510.6"/>
<polyline points="776.5,514.9 778.0,512.4 778.8,510.2 779.2,508.5"/>
<polyline points="768.3,526.2 769.3,528.1 770.7,530.4 771.3,533.4"/>
<polyline points="765.3,508.8 766.7,508.9"/>
<polyline points="773.1,470.4 776.1,469.9 778.3,467.8 781.8,467.7 784.6,468.4 787.0,470.1 788.6,470.7 792.0,472.5 791.6,475.5 791.4,478.5 789.8,480.6 789.9,483.5 791.1,486.6 793.3,488.7 792.3,490.4 790.6,493.3 793.2,496.9 796.0,498.1 797.1,501.4 795.7,503.5 794.0,506.0 793.0,507.3"/>
<polyline points="791.0,493.3 795.2,494.3 798.6,494.4 802.1,494.4 804.6,492.8 806.1,489.3 809.1,487.3 812.5,486.9 812.6,483.3 814.4,482.8 814.9,480.7 817.1,479.8 818.0,475.7 817.1,474.2 820.8,471.9 824.2,471.9 826.9,470.4"/>
<polyline points="791.7,475.6 796.2,475.7 798.4,475.1 800.2,473.3 802.8,471.4 805.4,470.2 808.7,471.1 812.6,470.0 815.5,468.0 817.5,467.1 818.3,470.2 818.4,472.2 820.8,471.2 823.3,470.2 826.5,470.4"/>
<polyline points="858.1,434.2 855.6,435.1 854.0,436.9 853.7,440.6 851.1,440.2 847.0,440.2 846.1,443.3 845.6,445.4 842.3,446.2 839.9,446.7 841.4,449.6 841.9,452.6 840.0,455.6 837.7,457.8 834.7,459.1 832.1,460.5 829.5,461.1 825.9,462.8 823.3,463.7 826.4,466.9 826.6,470.9"/>
<polyline points="859.4,434.2 862.0,432.9 864.1,432.3 865.9,430.7 868.5,430.3 871.6,429.1 873.9,430.4 877.7,431.5 881.0,432.1 883.9,432.2 886.1,430.5 886.0,428.3 885.5,425.4 888.5,425.6 890.2,426.8 892.7,427.7 896.1,428.2 896.5,430.4 899.5,430.1 903.5,430.6 906.4,430.8 908.5,432.1 909.9,432.5 912.8,433.1 915.2,433.2 917.4,434.5 919.8,433.7 923.8,433.3 927.2,430.9 930.4,432.0 932.9,432.7"/>
<polyline points="859.4,434.2 860.7,436.1 863.8,436.4 865.3,438.8 866.6,441.6 867.8,444.1 866.7,446.6 869.3,446.5 871.2,447.3 874.1,447.6 877.0,447.8 878.7,449.7 880.0,451.3 881.3,453.7 884.2,454.3 887.2,454.0 890.7,454.6 895.3,454.5 897.7,456.1 900.6,455.8 903.0,457.3 906.2,456.6 909.7,455.1 912.8,454.8 915.6,454.2 917.5,453.1 920.2,450.8 920.5,446.9 924.0,447.5 926.2,447.5 928.1,445.7 931.3,445.1 933.5,443.7 934.9,443.0 937.6,441.5 941.1,441.9 937.6,440.4 935.7,438.9 933.1,438.0 929.8,438.1 930.9,435.6 932.9,432.2"/>
<polyline points="932.9,432.4 936.0,433.5 938.6,431.6 940.7,429.0 941.0,427.1 943.4,424.1 944.8,421.5 947.8,421.5 950.6,420.9 953.2,421.5 955.4,422.4 957.4,425.0 957.8,427.1 959.3,428.8 960.1,431.0 960.5,432.4 963.6,433.4 966.9,435.3 968.7,438.8 973.3,438.5 975.4,437.2 979.0,437.3 977.6,438.8 976.5,441.8 975.7,444.0 974.3,446.8 971.0,446.4 969.5,447.5 969.8,452.2 968.1,454.8 965.8,455.2 962.0,456.2 962.3,457.9 958.9,456.5 956.9,459.7 954.5,461.0 952.5,462.5"/>
<polyline points="956.9,469.2 959.4,467.2 962.5,466.8"/>
<polyline points="910.8,518.5 907.6,516.7 906.7,514.1 904.0,513.3 900.5,515.8 895.9,515.8 894.8,519.7 893.2,517.5 890.4,518.5 888.6,517.0 888.2,513.8 887.1,511.2 884.0,510.9 885.4,507.4 886.9,505.4 887.7,502.0 887.1,500.6 883.8,497.7 880.6,496.2 878.1,494.8 875.5,496.7 873.7,498.0 871.3,498.8 869.1,499.1 866.4,498.5 865.0,498.3 862.5,498.0 859.8,499.0 857.2,499.2 854.9,498.8 851.6,497.6 849.9,495.6 846.5,494.3 844.5,492.4 842.1,491.8 839.9,489.9 837.8,489.1 836.3,485.3 837.9,483.8 836.4,479.5 833.8,475.8 832.2,475.2 829.1,474.3 827.5,472.9 826.3,471.0"/>
<polyline points="862.5,498.1 862.3,502.3 865.3,502.9 867.1,502.4 870.4,502.1 869.8,499.4"/>
<polyline points="842.1,492.1 841.4,494.2 840.0,496.3 841.6,497.4 844.5,498.8 846.5,500.1 849.5,500.5 852.5,501.2 854.6,503.3 856.7,503.3 860.2,503.9 860.0,498.7"/>
<polyline points="809.5,511.8 811.9,510.6 814.2,510.6 816.9,509.3 815.1,507.6 814.3,505.0 814.3,502.1 815.0,499.1 817.5,497.7 820.7,495.6 823.1,493.5 824.2,490.9 824.9,488.3 825.6,484.9 824.0,482.9 824.6,478.2 827.0,478.2 829.1,477.4 831.6,477.5 833.7,475.9"/>
<polyline points="862.5,517.6 862.1,514.6 862.2,513.1 861.8,510.2 860.4,506.2 861.2,503.5 864.5,505.0 864.6,507.6 867.3,507.5 871.2,507.5 868.1,511.2 868.8,513.9 871.1,512.0 870.9,513.7 871.5,516.5 871.9,519.5 870.8,521.0"/>
<polyline points="870.9,511.8 873.3,510.7 876.5,508.2 877.9,505.9 878.3,503.2 880.1,502.7 882.8,501.3 884.0,497.7"/>
<polyline points="893.2,517.6 891.5,520.0 890.3,522.2 887.8,524.2 886.7,525.9 884.6,528.5 884.7,530.1 886.4,532.4 887.1,534.2 885.8,537.7 886.5,540.8 888.1,543.5 889.3,546.2 889.5,548.2 888.1,550.7 887.1,553.3"/>
<polyline points="890.4,522.2 891.7,524.9 893.6,524.4 893.1,526.9 893.0,529.7 895.5,528.5 898.9,528.1 902.2,530.5 902.2,533.5 904.4,536.3 904.6,540.3 901.4,540.0 898.2,540.7 897.1,542.9 897.0,545.6 898.0,548.5"/>
<polyline points="895.8,515.8 897.8,517.9 900.3,520.2 901.7,521.9 900.7,524.4 904.0,527.6 905.0,529.5 907.3,532.2 908.0,535.7 909.3,538.1 909.5,538.9 910.0,543.1 909.6,546.3 905.8,548.2 905.2,550.4 901.8,552.3"/>
<polyline points="904.7,540.2 906.8,539.9 909.5,539.1"/>
<polyline points="890.7,564.2 893.2,566.6 895.6,565.2"/>
<polyline points="914.9,577.9 916.8,581.1 920.9,580.2 925.3,579.9 928.2,578.2 928.6,574.7 930.6,570.7 932.5,570.8 935.4,570.9"/>
<polyline points="602.4,499.7 613.9,499.7"/>
<polyline points="592.7,520.1 602.9,519.2 602.9,514.0 605.5,512.5 605.5,504.8 613.9,504.8 613.9,500.9"/>
<polyline points="630.4,477.1 631.4,480.5 632.9,486.0 627.1,488.1 626.6,490.2 622.0,493.3 613.9,496.6 613.9,500.9 623.8,507.9 639.1,519.8 644.1,523.7 646.7,525.9 651.3,524.3 666.5,512.5 674.2,514.0 697.1,524.6 697.1,523.1 699.6,523.1 699.6,517.0 729.9,517.0"/>
<polyline points="623.8,507.9 619.5,507.9 621.8,536.8 610.6,537.1 606.7,536.5 605.0,538.9 607.0,546.2 613.1,546.6 615.6,552.9 622.0,552.3 624.5,545.3 628.4,542.6 633.5,538.3 636.5,538.3 644.9,537.1 646.7,533.8 646.7,525.9"/>
<polyline points="594.0,535.3 596.3,534.7 599.3,533.3 600.9,535.4 602.1,537.3 605.2,538.8"/>
<polyline points="593.5,546.2 596.2,546.3 599.1,545.7 601.0,545.5 603.4,545.2 606.7,546.1"/>
<polyline points="593.3,542.6 596.0,541.9 598.1,542.1 601.0,543.5 597.8,544.1 593.0,544.0"/>
<polyline points="597.8,550.8 601.4,548.5 601.3,545.1"/>
<polyline points="602.2,556.6 604.5,554.8 606.4,553.7 608.0,555.3 609.8,558.1 607.8,560.8 606.9,563.3"/>
<polyline points="609.8,558.1 612.2,559.7 614.4,560.7 615.3,563.8 615.3,565.8 616.0,568.8 616.8,570.9"/>
<polyline points="614.4,560.9 615.3,558.4 614.6,554.9 615.6,553.0"/>
<polyline points="622.0,552.3 624.7,553.2 626.5,553.0 629.1,553.9 628.2,556.3 628.2,559.6 628.0,561.7 628.5,564.1 627.8,566.8 627.9,568.8"/>
<polyline points="628.9,550.5 631.9,549.7 633.8,550.4 636.0,550.1 637.9,550.3 639.6,548.9 641.8,546.7 645.1,548.6 646.1,546.0 647.6,542.2 650.0,543.1 653.5,544.7 656.9,544.8 659.5,543.2 661.4,543.2 664.0,542.5 665.5,542.9 667.8,541.9 670.8,542.5"/>
<polyline points="636.0,550.2 635.7,552.6 636.9,555.2 637.3,557.8 637.4,559.7 637.8,561.9 638.9,565.3"/>
<polyline points="638.0,550.5 637.7,553.6 638.6,554.9 638.6,557.6 639.1,559.7 639.9,562.4 640.2,564.9"/>
<polyline points="645.2,548.4 645.4,551.0 644.4,552.9 644.4,555.9 644.3,557.6 643.2,560.2 643.0,562.1 642.6,564.6"/>
<polyline points="636.5,538.3 637.4,540.1 638.5,541.8 639.9,543.6 641.7,546.0"/>
<polyline points="666.5,512.5 663.4,511.6 661.5,509.6 660.9,507.3 660.2,504.0 660.2,501.8 660.9,498.6 661.3,495.2 660.0,492.0 659.1,489.3 658.6,486.3 657.1,483.5 654.7,481.0 657.5,477.3 658.1,474.4 658.0,471.8"/>
<polyline points="660.2,492.1 661.2,490.2 662.5,487.3 663.8,486.0 665.3,483.2"/>
<polyline points="700.1,487.8 699.6,495.7 699.6,517.0"/>
<polyline points="674.2,514.0 674.6,516.9 675.4,519.9 675.7,522.9 675.5,525.8 676.0,528.9 675.6,532.6 674.8,535.1 673.6,537.4 672.5,539.3 670.9,542.4 672.2,545.0 673.0,549.3 671.7,551.3 670.2,553.8 668.3,556.5 667.0,559.3 665.9,562.0 665.2,563.7 660.7,563.5 658.8,565.8 658.2,569.5"/>
<polyline points="672.1,545.0 673.1,548.3 673.9,550.5 674.7,553.8 671.3,553.5 673.2,555.6 674.2,558.1 675.3,561.3 677.9,559.7 679.7,558.5 681.5,558.3 684.6,556.9 686.5,553.8 689.6,552.1 692.2,551.2 694.6,550.6 693.5,547.6 691.8,545.5 693.4,541.7 695.0,538.4 696.9,536.0 696.6,533.4 697.6,532.2 697.4,528.6 697.7,527.5 696.9,524.6"/>
<polyline points="675.4,561.2 674.3,563.8 673.7,566.5 673.0,569.1 674.2,570.7 675.0,572.8 676.0,575.1 676.9,577.4 673.4,577.0 669.7,577.6 666.3,577.9 663.5,576.4 660.7,577.2"/>
<polyline points="660.9,581.0 664.6,581.1 664.5,577.6"/>
<polyline points="669.8,577.3 672.9,580.0 671.8,584.3 672.7,585.8"/>
<polyline points="676.7,577.3 678.4,575.5 680.9,574.7 683.5,573.6 683.4,570.7 685.4,570.7 688.0,571.3 690.9,571.2 693.5,571.4 695.5,569.8 698.4,568.6 701.3,568.6 702.6,569.1 705.9,568.2 703.8,566.9 702.7,565.3 701.9,562.6 700.2,561.5 698.1,559.0 697.2,557.6 695.9,555.6 694.6,553.3 694.6,550.5"/>
<polyline points="683.3,573.3 683.4,575.3 682.3,577.8 681.9,580.0 681.6,582.7 680.7,586.2"/>
<polyline points="705.7,568.5 708.3,569.7 711.0,570.0 714.6,573.4 714.7,577.0 713.9,579.5 711.9,582.8 711.4,586.1"/>
<polyline points="714.4,573.3 717.8,571.9 719.3,572.2 722.6,570.9 724.1,573.7 723.9,576.2 725.2,579.2 723.1,580.8 722.3,583.1 722.3,585.9"/>
<polyline points="722.5,571.2 725.3,570.7 727.3,570.3 729.6,572.5 732.8,572.9 735.8,572.1 737.9,572.8 740.2,572.4 742.7,572.3 740.1,575.5 740.1,579.0 740.9,581.7 740.2,584.0 741.6,586.0"/>
<polyline points="742.6,572.1 745.6,570.5 747.3,569.3 750.8,569.3 751.8,566.6 754.2,565.5 755.4,563.3 756.7,561.3 758.1,560.0 755.0,558.2 753.5,558.7 749.9,557.6 747.6,556.4 745.1,555.6 744.4,551.1 746.2,549.2"/>
<polyline points="745.9,549.0 742.0,550.3 743.0,548.2 743.6,545.8 745.8,545.6"/>
<polyline points="728.9,540.5 729.5,536.8 730.2,533.7 731.5,531.8 734.3,528.9"/>
<polyline points="728.9,540.5 728.1,542.6 728.1,545.1 726.1,547.8 724.8,550.8 723.1,551.5 722.5,555.0 722.9,558.0 719.8,559.6 722.2,561.5 723.7,563.8 726.0,567.7 727.5,570.5"/>
<polyline stroke-width="4.6" points="284.9,403.5 287.6,405.6 289.5,406.4 291.7,408.4 293.7,410.1 295.5,412.3 296.6,413.2 299.1,416.4 302.0,419.4"/>
<polyline stroke-width="3.2" points="302.7,419.6 305.7,422.8 308.4,425.6 310.2,428.1 313.1,429.9"/>
<polyline stroke-width="3.0" points="648.7,395.9 650.4,399.6 650.7,402.7"/>
<polyline stroke-width="3.0" points="667.8,384.6 669.6,382.9 671.0,380.6 672.0,379.0 673.9,376.8 677.8,375.4"/>
<polyline stroke-width="3.0" points="683.1,371.8 686.4,371.5 689.1,370.5 692.9,369.0 695.6,368.6 698.9,368.6 700.8,368.0"/>
<polyline stroke-width="4.5" points="578.7,370.0 575.5,370.1 573.1,368.4 571.1,368.5 572.2,365.3 575.0,364.6 578.7,363.9"/>
<polyline stroke-width="3.5" points="582.6,361.1 579.4,361.2 576.4,360.2 578.6,358.5 581.2,357.9 584.0,354.3 582.6,351.0"/>
<polyline stroke-width="3.5" points="588.9,341.4 585.3,339.8 587.6,338.5 589.8,337.6 592.9,337.1"/>
<polyline stroke-width="4.2" points="503.7,375.5 499.7,373.0 499.7,370.0 502.7,368.0"/>
<polyline stroke-width="3.0" points="496.1,363.9 494.1,362.3 491.9,359.3 490.5,357.4 488.1,354.8"/>
<polyline stroke-width="3.0" points="478.2,335.9 479.9,336.3 482.6,335.1 484.6,334.5 486.9,335.0 489.5,334.8 492.7,333.8 494.3,333.8 496.1,333.6 499.7,333.0 501.7,333.9 503.7,333.2 505.8,332.8 509.1,332.9 510.7,333.1 514.4,331.9 516.7,332.6 518.9,332.6 520.9,332.7 523.8,331.8 526.0,331.7 529.2,331.6 531.0,331.5 533.5,331.8 535.5,330.8 537.4,331.3 540.7,330.2 543.0,330.3 544.3,330.1 547.1,330.2 549.8,330.2 551.9,330.2 554.0,329.5 557.7,330.0 559.2,330.2 562.4,330.1 565.2,330.4 567.7,330.0 570.1,330.8"/>
<polyline stroke-width="3.0" points="220.0,417.2 223.5,416.3 226.3,415.3 228.7,413.6 232.2,412.9 234.7,411.5 237.3,410.2"/>
<polyline stroke-width="3.0" points="249.2,402.9 252.0,403.1 254.2,402.0 258.3,400.4"/>
<polyline stroke-width="2.8" points="492.2,424.2 490.8,422.2 489.5,420.8 487.2,418.3 484.4,416.2 481.8,413.5 480.3,411.4 478.5,409.1 477.6,406.9 475.5,405.2 474.7,402.9"/>
<polyline stroke-width="3.0" points="854.8,357.2 858.0,355.8 859.3,355.4 862.9,354.4 865.1,353.9 867.3,353.6 870.1,353.5 873.2,353.1 874.8,352.8 877.5,352.6 879.9,351.7 882.9,351.4 885.4,351.7 887.8,351.1"/>
<polyline stroke-width="3.2" points="622.3,412.9 622.0,409.4 622.7,406.8"/>
<polyline stroke-width="2.8" points="900.6,426.6 902.6,425.4 905.3,423.8 906.9,423.1 909.8,421.7 912.0,418.9 913.3,416.8 914.9,414.9"/>
<polyline stroke-width="2.6" points="895.0,419.0 896.3,415.3 895.1,412.3"/>
<polyline stroke-width="2.6" points="867.5,418.7 869.0,415.9"/>
<polyline stroke-width="3.2" points="950.2,543.8 952.2,547.2 953.8,551.1 954.9,554.2"/>
<polyline stroke-width="3.0" points="943.9,543.8 945.8,545.8 946.8,547.5 948.6,550.4 949.1,552.0 949.7,555.9"/>
<polyline stroke-width="3.0" points="969.3,480.8 972.8,480.2 977.0,479.2"/>
<polyline stroke-width="2.6" points="1034.5,428.1 1033.5,424.9 1033.1,422.5 1032.1,418.9 1032.6,416.2"/>
<polyline stroke-width="2.8" points="195.8,387.6 198.7,385.8 201.1,383.9 203.5,382.8"/>
<polyline stroke-width="2.6" points="213.6,387.0 216.0,386.9 218.4,387.8 221.1,387.6 223.7,387.1 226.5,388.4"/>
<polyline stroke-width="2.8" points="468.1,450.0 471.3,448.5 473.3,448.5 476.7,447.8 479.3,445.9 482.7,442.8"/>
<polyline stroke-width="2.8" points="441.9,470.7 441.5,467.1 442.3,464.5"/>
<polyline stroke-width="3.0" points="660.2,416.6 661.4,413.5 662.0,409.8"/>
<polyline stroke-width="3.0" points="694.5,346.5 696.6,346.5 699.8,344.9"/>
<polyline stroke-width="2.6" points="773.4,360.5 776.8,359.8 779.4,360.0"/>
<polyline stroke-width="2.6" points="726.3,386.1 724.4,383.5 721.2,381.6"/>
</g>
<g clip-path="url(#box)" fill="#330a40" stroke="#330a40" stroke-width="1">
<polygon points="436.8,528.3 439.5,530.0 442.3,529.4 441.1,528.4 438.8,527.9 436.6,528.5"/>
<polygon points="465.0,528.9 469.0,528.7 468.7,527.9 464.9,527.8 465.0,528.8"/>
<polygon points="478.5,553.3 480.6,553.1 481.0,551.3 478.5,551.5 478.7,553.3"/>
<polygon points="322.0,436.6 318.2,435.5 314.1,432.9 312.1,431.7 310.1,429.7 312.8,430.2 317.3,431.7 320.5,434.0 321.8,436.4"/>
<polygon points="302.2,425.4 299.1,422.4 297.5,419.2 300.8,419.3 300.6,422.4 302.2,425.3"/>
<polygon points="242.9,410.5 245.2,409.4 248.3,409.1 248.1,406.5 245.6,407.5 242.8,408.9 242.6,410.2"/>
<polygon points="199.1,390.7 203.6,391.7 206.7,391.6 202.4,389.9 199.2,390.8"/>
<polygon points="211.1,401.3 214.2,401.8 213.4,400.2 211.2,401.2"/>
<polygon points="471.9,432.4 474.8,433.1 476.9,434.3 478.8,434.5 475.9,432.8 471.9,432.6"/>
<polygon points="472.4,441.8 475.6,443.0 478.5,442.6 474.2,442.3 472.5,441.7"/>
<polygon points="447.7,460.4 450.6,460.2 452.8,459.5 450.5,459.5 447.5,460.4"/>
<polygon points="239.1,525.5 241.5,524.9 241.1,522.4 239.5,523.0 238.8,525.7"/>
<polygon points="237.3,520.7 239.3,521.0 238.2,520.3 237.0,520.7"/>
<polygon points="233.5,518.8 234.6,519.2 233.9,518.2 233.2,518.8"/>
<polygon points="229.7,517.0 230.5,516.8 230.4,516.5 229.6,517.0"/>
<polygon points="338.3,354.1 340.7,354.8 343.6,356.0 345.4,355.9 348.4,357.1 351.0,357.5 353.3,356.5 356.0,356.4 358.5,356.5 361.0,356.4 364.5,355.5 367.5,354.0 366.4,352.8 364.2,352.2 360.8,351.0 358.8,350.2 355.9,350.8 353.9,350.7 350.9,351.8 347.9,351.4 346.2,351.5 343.5,351.3 341.1,351.6 338.4,352.8 338.0,354.0"/>
<polygon points="323.0,352.6 325.4,353.2 327.6,352.8 331.3,352.6 333.5,353.0 335.5,352.0 337.9,350.7 339.9,350.2 341.9,348.9 338.5,348.3 335.6,348.7 333.0,349.2 330.1,349.6 327.5,350.0 325.7,351.1 323.0,352.3"/>
<polygon points="371.4,354.8 374.2,354.5 376.7,355.1 379.5,355.0 381.5,355.4 385.3,354.9 387.8,353.6 384.3,350.7 381.1,350.9 378.8,351.5 375.9,351.6 374.2,351.1 371.5,354.9"/>
<polygon points="391.7,355.7 394.5,356.3 396.8,356.6 398.1,354.7 394.6,354.0 391.7,355.4"/>
<polygon points="393.0,363.3 396.3,364.6 399.2,364.6 402.2,363.2 405.7,362.5 407.2,359.6 404.9,359.0 401.8,358.7 399.3,358.1 395.7,358.8 393.0,359.2 392.8,363.2"/>
<polygon points="384.1,366.9 387.1,366.5 389.3,364.7 387.8,360.5 385.1,359.6 383.0,358.6 380.2,359.2 376.8,360.4 375.2,363.3 378.6,364.9 380.6,365.5 383.8,366.9"/>
<polygon points="382.8,373.3 386.0,373.9 388.8,374.3 391.6,375.4 392.9,372.5 389.4,370.8 386.4,371.9 383.0,373.4"/>
<polygon points="424.8,394.0 428.4,393.3 426.1,392.2 424.6,394.1"/>
<polygon points="431.7,396.2 433.6,395.2 432.2,394.2 431.5,396.0"/>
<polygon points="391.7,341.1 393.7,342.7 397.3,343.9 399.3,344.5 401.8,345.7 404.2,345.5 407.0,345.1 409.6,345.2 411.9,345.1 413.6,342.1 411.2,340.4 409.2,339.1 407.1,337.8 404.3,337.0 401.6,336.8 399.6,337.3 396.7,338.2 394.5,338.3 391.8,341.0"/>
<polygon points="368.8,347.1 371.5,347.0 374.5,346.7 376.9,347.3 378.7,347.2 381.7,347.0 384.1,343.9 381.5,344.3 379.5,343.1 376.6,342.4 374.1,342.6 371.2,342.9 368.3,343.5 366.2,344.4 368.6,347.3"/>
<polygon points="386.6,346.8 388.6,346.0 391.6,345.7 389.4,344.4 386.6,346.7"/>
<polygon points="438.8,378.5 441.8,378.8 444.0,378.8 442.4,376.1 438.7,378.8"/>
<polygon points="429.9,362.4 431.9,362.8 435.5,361.8 437.8,362.4 441.6,360.8 438.7,360.0 434.8,359.7 433.0,359.9 430.0,360.7 429.8,362.4"/>
<polygon points="427.4,422.6 431.3,423.3 430.2,422.1 427.1,422.7"/>
<polygon points="432.4,413.5 434.7,412.7 433.7,411.0 432.6,413.5"/>
<polygon points="671.6,349.6 674.5,350.0 676.8,350.5 679.3,350.8 681.2,348.2 684.2,346.4 687.2,346.3 690.7,345.4 687.7,344.2 684.2,343.3 687.1,343.3 688.8,343.4 691.6,342.7 694.0,342.9 697.1,342.4 700.2,341.7 701.7,341.5 704.7,340.4 702.3,340.1 699.5,339.3 697.4,339.6 694.8,338.7 692.0,338.8 689.5,339.5 686.6,339.8 684.6,339.3 682.2,340.3 679.1,340.7 676.2,340.8 674.6,341.2 672.1,341.1 669.3,341.1 666.9,342.1 664.1,343.8 666.5,344.9 669.3,345.9 671.3,346.5 671.7,349.7"/>
<polygon points="753.0,338.9 755.8,339.8 757.9,339.8 760.8,340.2 763.1,340.5 766.3,340.3 767.9,340.2 771.1,339.4 773.8,339.7 775.8,339.4 778.0,339.8 781.4,339.1 784.2,338.7 785.5,339.2 788.8,338.4 791.0,337.5 793.8,337.4 791.4,337.4 789.1,336.5 786.0,335.8 783.6,335.8 781.3,335.9 778.3,336.6 775.5,336.3 773.5,337.1 770.4,337.0 768.3,337.3 765.2,337.7 763.5,337.3 760.7,338.2 758.4,337.3 755.5,337.8 753.3,339.0"/>
<polygon points="880.3,343.5 883.1,343.5 885.6,344.3 887.5,345.3 890.5,345.8 893.4,346.0 896.1,345.0 898.0,345.1 900.6,344.8 903.4,341.7 900.1,341.1 898.4,341.8 895.3,340.7 892.7,340.7 890.5,340.3 888.2,340.0 885.9,339.4 883.1,338.7 880.4,337.3 877.2,337.6 875.7,338.6 872.8,338.7 875.5,340.2 877.5,341.9 880.5,343.6"/>
<polygon points="984.6,354.8 987.7,355.3 989.6,357.2 992.2,358.0 995.0,359.3 996.9,358.0 999.7,356.6 1002.2,355.9 1005.2,356.2 1007.7,355.6 1010.5,355.7 1013.0,355.9 1015.1,355.1 1017.6,355.6 1015.0,354.6 1012.4,354.3 1009.4,354.3 1007.1,353.2 1004.7,353.1 1002.5,353.2 999.8,352.7 996.8,352.8 994.9,352.1 992.8,352.7 989.7,352.3 987.1,352.8 984.7,354.5"/>
<polygon points="658.1,457.7 659.9,456.3 659.9,452.9 658.1,454.8 658.2,457.5"/>
<polygon points="696.0,475.9 699.2,476.8 703.1,476.7 698.0,477.5 695.8,475.8"/>
<polygon points="664.0,415.6 668.0,414.5 667.5,413.4 664.6,414.3 663.9,415.8"/>
<polygon points="682.3,410.5 683.9,408.6 684.4,407.9 682.6,408.7 682.3,410.2"/>
<polygon points="642.1,463.7 644.2,464.3 643.9,462.4 642.1,463.7"/>
<polygon points="952.3,545.9 954.7,545.8 955.6,550.2 954.1,552.8 953.4,549.6 952.0,546.0"/>
<polygon points="947.7,553.6 949.8,550.7 949.3,553.8 949.8,556.0 947.5,553.5"/>
<polygon points="946.4,548.1 949.3,548.8 948.0,552.3 946.4,551.8 946.4,547.8"/>
<polygon points="950.0,555.1 950.8,552.0 951.7,550.2"/>
<polygon points="942.3,543.2 945.0,543.3 944.1,546.4 942.2,543.2"/>
<polygon points="973.1,483.5 977.4,482.8 978.8,481.4 977.2,479.6 974.4,480.6 973.0,483.3"/>
<polygon points="217.1,416.3 220.3,416.3 220.3,418.6 217.1,418.6"/>
<polygon points="209.9,419.2 213.7,419.2 213.7,421.8 209.9,421.8"/>
<polygon points="207.5,420.4 210.5,420.4 210.5,422.5 207.5,422.5"/>
<polygon points="205.6,421.4 208.4,421.4 208.4,423.3 205.6,423.3"/>
<polygon points="190.9,424.0 194.1,424.0 194.1,426.2 190.9,426.2"/>
<polygon points="193.8,423.9 196.2,423.9 196.2,425.6 193.8,425.6"/>
<polygon points="185.1,425.4 187.7,425.4 187.7,427.2 185.1,427.2"/>
<polygon points="1075.4,422.0 1078.0,422.0 1078.0,423.9 1075.4,423.9"/>
<polygon points="1057.7,415.1 1060.1,415.1 1060.1,416.8 1057.7,416.8"/>
<polygon points="203.4,410.8 205.0,410.8 205.0,411.9 203.4,411.9"/>
<polygon points="1006.1,447.5 1008.9,447.5 1008.9,449.5 1006.1,449.5"/>
<polygon points="1010.7,445.1 1013.5,445.1 1013.5,447.1 1010.7,447.1"/>
<polygon points="1016.7,442.6 1018.7,442.6 1018.7,444.0 1016.7,444.0"/>
<polygon points="1021.2,440.2 1023.2,440.2 1023.2,441.6 1021.2,441.6"/>
<polygon points="1024.3,436.6 1026.3,436.6 1026.3,438.0 1024.3,438.0"/>
<polygon points="1028.1,433.2 1030.1,433.2 1030.1,434.6 1028.1,434.6"/>
<polygon points="1031.1,430.0 1033.7,430.0 1033.7,431.8 1031.1,431.8"/>
<polygon points="570.1,468.2 572.1,468.2 572.1,469.6 570.1,469.6"/>
<polygon points="592.7,496.9 595.3,496.9 595.3,498.8 592.7,498.8"/>
<polygon points="595.4,497.9 597.8,497.9 597.8,499.6 595.4,499.6"/>
<polygon points="599.3,496.5 601.5,496.5 601.5,498.0 599.3,498.0"/>
<polygon points="600.4,495.0 602.4,495.0 602.4,496.4 600.4,496.4"/>
<polygon points="589.8,496.0 591.6,496.0 591.6,497.3 589.8,497.3"/>
<polygon points="573.7,537.5 576.1,537.5 576.1,539.2 573.7,539.2"/>
<polygon points="617.0,394.4 619.4,394.4 619.4,396.1 617.0,396.1"/>
<polygon points="631.5,399.6 633.9,399.6 633.9,401.3 631.5,401.3"/>
<polygon points="627.4,403.7 629.4,403.7 629.4,405.1 627.4,405.1"/>
<polygon points="617.0,407.5 619.4,407.5 619.4,409.2 617.0,409.2"/>
<polygon points="614.6,367.4 616.6,367.4 616.6,368.8 614.6,368.8"/>
<polygon points="683.4,356.9 685.2,356.9 685.2,358.1 683.4,358.1"/>
<polygon points="870.9,546.6 873.3,546.6 873.3,548.3 870.9,548.3"/>
<polygon points="871.4,543.1 873.4,543.1 873.4,544.5 871.4,544.5"/>
<polygon points="873.9,561.5 875.5,561.5 875.5,562.6 873.9,562.6"/>
<polygon points="771.7,545.1 774.1,545.1 774.1,546.8 771.7,546.8"/>
<polygon points="1003.5,542.6 1005.3,542.6 1005.3,543.8 1003.5,543.8"/>
<polygon points="1061.8,555.1 1063.6,555.1 1063.6,556.3 1061.8,556.3"/>
<polygon points="1070.9,562.0 1072.9,562.0 1072.9,563.4 1070.9,563.4"/>
<polygon points="1067.4,565.9 1068.6,565.9 1068.6,566.8 1067.4,566.8"/>
<polygon points="1065.5,569.3 1066.5,569.3 1066.5,570.0 1065.5,570.0"/>
<polygon points="960.2,502.5 962.6,502.5 962.6,504.2 960.2,504.2"/>
<polygon points="964.5,497.1 966.5,497.1 966.5,498.5 964.5,498.5"/>
<polygon points="763.7,504.3 765.3,504.3 765.3,505.4 763.7,505.4"/>
<polygon points="482.6,543.3 484.0,543.3 484.0,544.3 482.6,544.3"/>
<polygon points="479.9,538.9 481.7,538.9 481.7,540.2 479.9,540.2"/>
<polygon points="478.5,534.0 480.5,534.0 480.5,535.4 478.5,535.4"/>
<polygon points="479.2,536.6 480.8,536.6 480.8,537.7 479.2,537.7"/>
<polygon points="478.1,546.7 479.5,546.7 479.5,547.7 478.1,547.7"/>
<polygon points="436.8,508.6 439.2,508.6 439.2,510.3 436.8,510.3"/>
<polygon points="436.3,502.2 438.7,502.2 438.7,503.9 436.3,503.9"/>
<polygon points="439.1,503.2 441.1,503.2 441.1,504.6 439.1,504.6"/>
<polygon points="441.7,509.7 443.5,509.7 443.5,511.0 441.7,511.0"/>
<polygon points="448.0,519.4 450.0,519.4 450.0,520.8 448.0,520.8"/>
<polygon points="444.4,511.9 446.0,511.9 446.0,513.0 444.4,513.0"/>
<polygon points="475.1,528.5 476.3,528.5 476.3,529.3 475.1,529.3"/>
<polygon points="470.5,529.4 471.7,529.4 471.7,530.2 470.5,530.2"/>
<polygon points="459.7,546.4 461.1,546.4 461.1,547.3 459.7,547.3"/>
<polygon points="402.2,584.2 404.2,584.2 404.2,585.6 402.2,585.6"/>
<polygon points="653.2,578.7 654.4,578.7 654.4,579.5 653.2,579.5"/>
<polygon points="652.1,582.6 653.5,582.6 653.5,583.6 652.1,583.6"/>
<polygon points="657.1,572.6 659.1,572.6 659.1,574.0 657.1,574.0"/>
<polygon points="697.1,465.9 699.5,465.9 699.5,467.6 697.1,467.6"/>
<polygon points="699.4,470.2 701.8,470.2 701.8,471.9 699.4,471.9"/>
<polygon points="701.5,464.1 703.9,464.1 703.9,465.8 701.5,465.8"/>
<polygon points="703.7,471.0 705.7,471.0 705.7,472.4 703.7,472.4"/>
<polygon points="705.9,472.9 708.5,472.9 708.5,474.7 705.9,474.7"/>
<polygon points="701.2,466.4 703.2,466.4 703.2,467.8 701.2,467.8"/>
<polygon points="699.3,461.4 700.9,461.4 700.9,462.5 699.3,462.5"/>
<polygon points="697.8,468.1 699.4,468.1 699.4,469.2 697.8,469.2"/>
<polygon points="687.4,467.0 689.4,467.0 689.4,468.4 687.4,468.4"/>
<polygon points="685.6,462.7 687.6,462.7 687.6,464.1 685.6,464.1"/>
<polygon points="672.2,474.2 673.6,474.2 673.6,475.2 672.2,475.2"/>
<polygon points="638.8,464.7 640.4,464.7 640.4,465.8 638.8,465.8"/>
<polygon points="645.4,461.7 647.0,461.7 647.0,462.8 645.4,462.8"/>
<polygon points="661.5,453.2 662.9,453.2 662.9,454.2 661.5,454.2"/>
<polygon points="618.8,406.3 621.2,406.3 621.2,408.0 618.8,408.0"/>
<polygon points="619.0,408.7 621.4,408.7 621.4,410.4 619.0,410.4"/>
<polygon points="623.6,418.4 625.4,418.4 625.4,419.6 623.6,419.6"/>
<polygon points="619.2,411.6 621.2,411.6 621.2,413.0 619.2,413.0"/>
<polygon points="691.7,405.2 694.7,405.2 694.7,407.3 691.7,407.3"/>
<polygon points="692.7,403.9 694.9,403.9 694.9,405.5 692.7,405.5"/>
<polygon points="685.8,400.0 688.0,400.0 688.0,401.5 685.8,401.5"/>
<polygon points="673.0,415.6 674.8,415.6 674.8,416.9 673.0,416.9"/>
<polygon points="660.9,414.4 664.5,414.4 664.5,416.9 660.9,416.9"/>
<polygon points="664.1,416.3 666.5,416.3 666.5,418.0 664.1,418.0"/>
<polygon points="677.5,410.4 679.5,410.4 679.5,411.8 677.5,411.8"/>
<polygon points="672.6,374.0 675.8,374.0 675.8,376.3 672.6,376.3"/>
<polygon points="670.3,375.5 672.9,375.5 672.9,377.3 670.3,377.3"/>
<polygon points="676.8,373.1 679.2,373.1 679.2,374.8 676.8,374.8"/>
<polygon points="681.9,371.3 684.3,371.3 684.3,372.9 681.9,372.9"/>
<polygon points="693.3,368.2 695.7,368.2 695.7,369.9 693.3,369.9"/>
<polygon points="666.8,382.4 668.8,382.4 668.8,383.8 666.8,383.8"/>
<polygon points="656.4,389.8 658.8,389.8 658.8,391.5 656.4,391.5"/>
<polygon points="647.7,394.8 649.7,394.8 649.7,396.2 647.7,396.2"/>
<polygon points="648.0,401.1 650.4,401.1 650.4,402.8 648.0,402.8"/>
</g>
<g fill="#330a40" shape-rendering="crispEdges">
<rect x="406" y="310" width="2" height="274"/>
<rect x="635" y="310" width="2" height="274"/>
<rect x="864" y="310" width="2" height="274"/>
<rect x="734" y="312" width="358" height="25" fill="#fff"/>
<rect x="177" y="309" width="918" height="2"/><rect x="177" y="584" width="918" height="2"/><rect x="177" y="309" width="2" height="277"/><rect x="1093" y="309" width="2" height="277"/>
</g>
<g fill="#000" shape-rendering="crispEdges">
<rect x="172" y="584" width="5" height="1"/><rect x="172" y="554" width="5" height="1"/><rect x="172" y="524" width="5" height="1"/><rect x="172" y="493" width="5" height="1"/><rect x="172" y="463" width="5" height="1"/><rect x="172" y="432" width="5" height="1"/><rect x="172" y="402" width="5" height="1"/><rect x="172" y="371" width="5" height="1"/><rect x="172" y="341" width="5" height="1"/><rect x="172" y="311" width="5" height="1"/><rect x="178" y="586" width="1" height="4"/><rect x="331" y="586" width="1" height="4"/><rect x="483" y="586" width="1" height="4"/><rect x="636" y="586" width="1" height="4"/><rect x="789" y="586" width="1" height="4"/><rect x="941" y="586" width="1" height="4"/><rect x="1094" y="586" width="1" height="4"/>
</g>
<g stroke="#000" stroke-width="2" stroke-linejoin="miter">
<polygon points="120,764 186,754 186,774" fill="#4b0050"/>
<rect x="186" y="754" width="68" height="20" fill="#960096"/>
<rect x="254" y="754" width="68" height="20" fill="#c800c8"/>
<rect x="322" y="754" width="68" height="20" fill="#3200dc"/>
<rect x="390" y="754" width="68" height="20" fill="#0064c8"/>
<rect x="458" y="754" width="68" height="20" fill="#00c8f0"/>
<rect x="526" y="754" width="68" height="20" fill="#ffffff"/>
<rect x="594" y="754" width="68" height="20" fill="#ffffff"/>
<rect x="662" y="754" width="68" height="20" fill="#64dc00"/>
<rect x="730" y="754" width="68" height="20" fill="#c8e100"/>
<rect x="798" y="754" width="68" height="20" fill="#ffe100"/>
<rect x="866" y="754" width="68" height="20" fill="#ffaa00"/>
<rect x="934" y="754" width="68" height="20" fill="#ff6400"/>
<polygon points="1002,754 1071,764 1002,774" fill="#ff0a00"/>
</g>
</svg>
<div class="t" id="t1" style="left:0;top:243.9px;font-size:19.5px;width:1190px;height:20px;"><span class="w" style="left:517.3px;letter-spacing:0.71px;">NCEP/NCAR</span> <span class="w" style="left:649.8px;letter-spacing:1.09px;">Reanalysis</span></div>
<div class="t" id="t2" style="left:0;top:273.6px;font-size:19.5px;width:1190px;height:20px;"><span class="w" style="left:301.5px;letter-spacing:0.25px;">Sea</span> <span class="w" style="left:348.3px;letter-spacing:1.50px;">Level</span> <span class="w" style="left:411.5px;letter-spacing:1.47px;">Pressure</span> <span class="w" style="left:512.6px;letter-spacing:2.80px;">(mb)</span> <span class="w" style="left:573.8px;letter-spacing:1.40px;">Composite</span> <span class="w" style="left:691.0px;letter-spacing:1.00px;">Anomaly</span> <span class="w" style="left:786.0px;letter-spacing:2.62px;">1981&#8722;2010</span> <span class="w" style="left:919.0px;letter-spacing:1.88px;">climo</span></div>
<div class="t" id="noaa" style="left:0;top:313.2px;font-size:16.2px;width:1190px;height:16px;"><span class="w" style="left:759.8px;letter-spacing:0.39px;">NOAA/ESRL</span> <span class="w" style="left:865.6px;letter-spacing:1.11px;">Physical</span> <span class="w" style="left:944.0px;letter-spacing:1.00px;">Sciences</span> <span class="w" style="left:1026.6px;letter-spacing:0.84px;">Division</span></div>
<div class="t" id="yrs" style="left:0;top:619.2px;font-size:21.0px;width:1190px;height:21px;"><span class="w" style="left:-14.5px;letter-spacing:1.25px;">Nov</span> <span class="w" style="left:32.0px;letter-spacing:0.00px;">:</span> <span class="w" style="left:51.8px;letter-spacing:1.17px;">1984,1985,1986,1995,2002,2005,2008,2009,2010,2012</span> <span class="w" style="left:640.2px;letter-spacing:1.00px;">minus</span> <span class="w" style="left:713.8px;letter-spacing:1.08px;">1988,1989,1993,1997,1999,2006,2007,2013,2014</span></div>
<div class="t ax yl" style="top:576.7px;">EQ</div><div class="t ax yl" style="top:546.3px;">10N</div><div class="t ax yl" style="top:515.8px;">20N</div><div class="t ax yl" style="top:485.4px;">30N</div><div class="t ax yl" style="top:454.9px;">40N</div><div class="t ax yl" style="top:424.5px;">50N</div><div class="t ax yl" style="top:394.1px;">60N</div><div class="t ax yl" style="top:363.6px;">70N</div><div class="t ax yl" style="top:333.2px;">80N</div><div class="t ax yl" style="top:302.7px;">90N</div>
<div class="t ax xl" style="left:139px;top:592.5px;">180</div><div class="t ax xl" style="left:292px;top:592.5px;">120W</div><div class="t ax xl" style="left:444px;top:592.5px;">60W</div><div class="t ax xl" style="left:597px;top:592.5px;">0</div><div class="t ax xl" style="left:750px;top:592.5px;">60E</div><div class="t ax xl" style="left:902px;top:592.5px;">120E</div><div class="t ax xl" style="left:1055px;top:592.5px;">180</div>
<div class="t cb cbn" style="left:156px;top:778.5px;"><span class="mn">&#8722;</span>6</div><div class="t cb cbn" style="left:292px;top:778.5px;"><span class="mn">&#8722;</span>4</div><div class="t cb cbn" style="left:428px;top:778.5px;"><span class="mn">&#8722;</span>2</div><div class="t cb" style="left:564px;top:778.5px;">0</div><div class="t cb" style="left:700px;top:778.5px;">2</div><div class="t cb" style="left:836px;top:778.5px;">4</div><div class="t cb" style="left:972px;top:778.5px;">6</div>
</body></html>
